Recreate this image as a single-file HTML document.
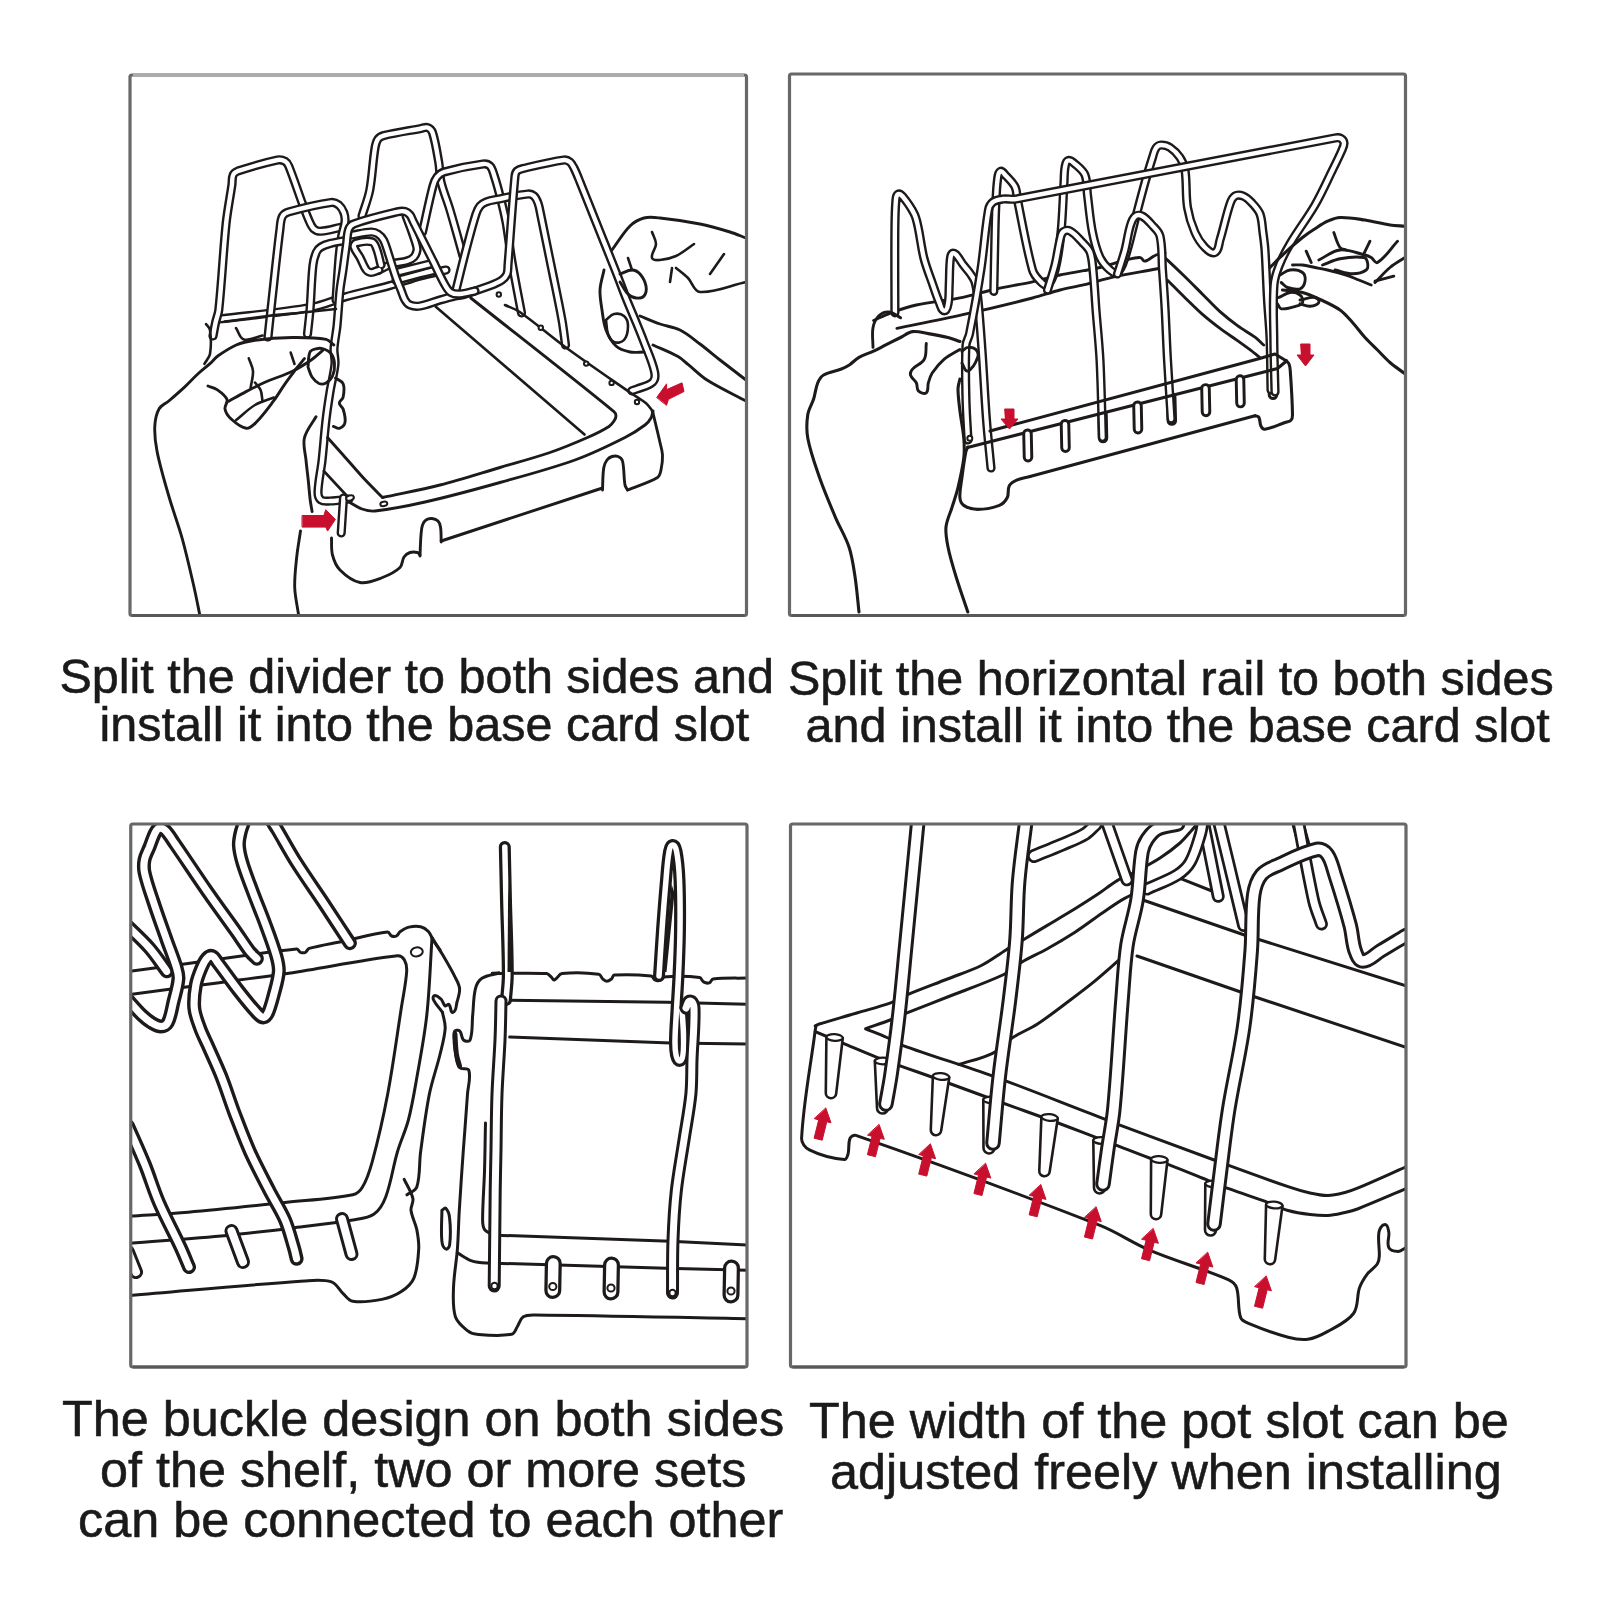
<!DOCTYPE html>
<html><head><meta charset="utf-8"><style>
html,body{margin:0;padding:0;background:#fff;width:1600px;height:1600px;overflow:hidden}
svg{display:block}
text{font-family:"Liberation Sans",sans-serif;fill:#1a1a1a;stroke:#1a1a1a;stroke-width:0.55px}
</style></head><body>
<svg width="1600" height="1600" viewBox="0 0 1600 1600" xmlns="http://www.w3.org/2000/svg">
<rect width="1600" height="1600" fill="#fff"/>
<defs><clipPath id="cp1"><rect x="130" y="75" width="616.5" height="540.5"/></clipPath><clipPath id="cp2"><rect x="789.5" y="74" width="616" height="541.5"/></clipPath><clipPath id="cp3"><rect x="130.75" y="824" width="616.25" height="543"/></clipPath><clipPath id="cp4"><rect x="790.5" y="824" width="615.5" height="543"/></clipPath></defs>
<g clip-path="url(#cp1)" fill="none" stroke-linecap="round" stroke-linejoin="round"><path d="M219 319 C249.7 315.2 280.6 312.8 311 307.5 C322.7 305.5 333.6 300.2 345 297 C359.9 292.8 375.1 289.7 390 285.5 C400.1 282.7 409.9 278.8 420 276 C428.6 273.6 437.3 272 446 270" stroke="#1e1a1a" stroke-width="9.2"/><path d="M219 319 C249.7 315.2 280.6 312.8 311 307.5 C322.7 305.5 333.6 300.2 345 297 C359.9 292.8 375.1 289.7 390 285.5 C400.1 282.7 409.9 278.8 420 276 C428.6 273.6 437.3 272 446 270" stroke="#fff" stroke-width="4.4"/><path d="M396 280.5 C404 278.3 412 276.1 420 274 C424.7 272.8 429.3 271.7 434 270.5" stroke="#1e1a1a" stroke-width="9.2"/><path d="M396 280.5 C404 278.3 412 276.1 420 274 C424.7 272.8 429.3 271.7 434 270.5" stroke="#fff" stroke-width="4.4"/><path d="M396 272.5 C404 270.5 412 268.5 420 266.5 C424.7 265.3 429.3 264.2 434 263" stroke="#1e1a1a" stroke-width="9.2"/><path d="M396 272.5 C404 270.5 412 268.5 420 266.5 C424.7 265.3 429.3 264.2 434 263" stroke="#fff" stroke-width="4.4"/><path d="M213 336 C213.9 331.5 214.6 327 215.6 322.5 C216.5 318.3 218.3 314.3 218.8 310 C221.9 280.9 223.2 251.6 226.2 222.5 C227.6 209.9 230.1 197.5 231.9 185 C232.4 181.7 231.8 178.1 233.1 175 C233.8 173.2 235.7 171.9 237.5 171.2 C250.6 166.8 263.9 162.9 277.5 160 C280 159.5 282.8 160 285 161.2 C286.8 162.3 288 164.3 288.8 166.2 C293.8 178.6 297.9 191.3 302.5 203.8 C304.5 209.2 306.4 214.7 308.8 220 C310.1 223.1 311.3 226.5 313.8 228.8 C315.7 230.5 318.6 231.4 321.2 231.2 C327.6 230.9 333.8 228.8 340 227.5 C344 226.7 348 225.8 352 225" stroke="#1e1a1a" stroke-width="9.2"/><path d="M213 336 C213.9 331.5 214.6 327 215.6 322.5 C216.5 318.3 218.3 314.3 218.8 310 C221.9 280.9 223.2 251.6 226.2 222.5 C227.6 209.9 230.1 197.5 231.9 185 C232.4 181.7 231.8 178.1 233.1 175 C233.8 173.2 235.7 171.9 237.5 171.2 C250.6 166.8 263.9 162.9 277.5 160 C280 159.5 282.8 160 285 161.2 C286.8 162.3 288 164.3 288.8 166.2 C293.8 178.6 297.9 191.3 302.5 203.8 C304.5 209.2 306.4 214.7 308.8 220 C310.1 223.1 311.3 226.5 313.8 228.8 C315.7 230.5 318.6 231.4 321.2 231.2 C327.6 230.9 333.8 228.8 340 227.5 C344 226.7 348 225.8 352 225" stroke="#fff" stroke-width="4.4"/><path d="M362 216 C364.6 207.3 368.1 198.9 369.8 190 C372.4 176.1 372.7 161.9 375 148 C375.5 144.9 376.2 141.6 378 139 C379.4 137.1 381.8 136 384 135.5 C396.2 132.5 408.7 130.8 421 128.5 C423.2 128.1 425.4 126.8 427.5 127.5 C429.7 128.3 431.8 130.3 432.5 132.5 C435.6 142.2 437 152.4 438.8 162.5 C439.9 168.9 439.5 175.6 441 182 C443.3 191.5 447.2 200.6 450 210 C452.8 219.3 455.4 228.7 458 238 C459.7 244 461.3 250 463 256" stroke="#1e1a1a" stroke-width="9.2"/><path d="M362 216 C364.6 207.3 368.1 198.9 369.8 190 C372.4 176.1 372.7 161.9 375 148 C375.5 144.9 376.2 141.6 378 139 C379.4 137.1 381.8 136 384 135.5 C396.2 132.5 408.7 130.8 421 128.5 C423.2 128.1 425.4 126.8 427.5 127.5 C429.7 128.3 431.8 130.3 432.5 132.5 C435.6 142.2 437 152.4 438.8 162.5 C439.9 168.9 439.5 175.6 441 182 C443.3 191.5 447.2 200.6 450 210 C452.8 219.3 455.4 228.7 458 238 C459.7 244 461.3 250 463 256" stroke="#fff" stroke-width="4.4"/><path d="M422.5 232 C426 216.7 429 201.2 433 186 C433.8 182.8 435 179.6 437 177 C438.8 174.7 441.2 172.8 444 172 C456.8 168.4 469.8 165.7 483 164 C485.4 163.7 488.3 164.3 490 166 C492.3 168.3 493 171.9 494 175 C496.3 181.9 498.2 188.9 500 196 C502.2 204.6 504.4 213.2 506 222 C508.4 235.3 509.7 248.7 512 262 C514.9 279 518.3 296 521.5 313" stroke="#1e1a1a" stroke-width="9.2"/><path d="M422.5 232 C426 216.7 429 201.2 433 186 C433.8 182.8 435 179.6 437 177 C438.8 174.7 441.2 172.8 444 172 C456.8 168.4 469.8 165.7 483 164 C485.4 163.7 488.3 164.3 490 166 C492.3 168.3 493 171.9 494 175 C496.3 181.9 498.2 188.9 500 196 C502.2 204.6 504.4 213.2 506 222 C508.4 235.3 509.7 248.7 512 262 C514.9 279 518.3 296 521.5 313" stroke="#fff" stroke-width="4.4"/><path d="M456 290 C459.3 276.7 462.5 263.3 466 250 C469.2 238 472.2 225.9 476 214 C476.9 211.2 478.1 208.3 480 206 C481.5 204.2 483.8 202.9 486 202 C489.2 200.7 492.6 200.1 496 199.5 C506.6 197.5 517.2 195 528 194 C530.1 193.8 532.4 194.6 534 196 C536 197.8 537.1 200.5 538 203 C539.5 207.2 540.1 211.6 541 216 C544.8 234 548.4 252 552 270 C555.4 286.7 559 303.3 562 320 C563.5 328.3 564.3 336.7 565.5 345" stroke="#1e1a1a" stroke-width="9.2"/><path d="M456 290 C459.3 276.7 462.5 263.3 466 250 C469.2 238 472.2 225.9 476 214 C476.9 211.2 478.1 208.3 480 206 C481.5 204.2 483.8 202.9 486 202 C489.2 200.7 492.6 200.1 496 199.5 C506.6 197.5 517.2 195 528 194 C530.1 193.8 532.4 194.6 534 196 C536 197.8 537.1 200.5 538 203 C539.5 207.2 540.1 211.6 541 216 C544.8 234 548.4 252 552 270 C555.4 286.7 559 303.3 562 320 C563.5 328.3 564.3 336.7 565.5 345" stroke="#fff" stroke-width="4.4"/><path d="M406 216 C408 221.3 410.1 226.6 412 232 C413.4 236 414.9 239.9 416 244 C416.5 246 417.3 248 417 250 C416.6 252.5 415.7 255.1 414 257 C412.2 259 409.6 260.2 407 261 C402.1 262.5 396.8 262.4 392 264 C387.1 265.6 382.7 268.3 378 270.5" stroke="#1e1a1a" stroke-width="9.2"/><path d="M406 216 C408 221.3 410.1 226.6 412 232 C413.4 236 414.9 239.9 416 244 C416.5 246 417.3 248 417 250 C416.6 252.5 415.7 255.1 414 257 C412.2 259 409.6 260.2 407 261 C402.1 262.5 396.8 262.4 392 264 C387.1 265.6 382.7 268.3 378 270.5" stroke="#fff" stroke-width="4.4"/><path d="M379 270 C376.3 270.8 373.8 272.6 371 272.5 C369.1 272.4 367.1 271.1 366 269.5 C363.4 265.9 362.1 261.4 360 257.5 C358.1 253.9 355.1 250.9 354 247 C353.6 245.6 354.6 243.4 356 243 C361.1 241.5 366.8 240.4 372 241.8 C374.6 242.5 375.5 246 376.5 248.5 C378.6 253.8 379.5 259.5 381 265" stroke="#1e1a1a" stroke-width="9.2"/><path d="M379 270 C376.3 270.8 373.8 272.6 371 272.5 C369.1 272.4 367.1 271.1 366 269.5 C363.4 265.9 362.1 261.4 360 257.5 C358.1 253.9 355.1 250.9 354 247 C353.6 245.6 354.6 243.4 356 243 C361.1 241.5 366.8 240.4 372 241.8 C374.6 242.5 375.5 246 376.5 248.5 C378.6 253.8 379.5 259.5 381 265" stroke="#fff" stroke-width="4.4"/><path d="M268 337 C269.3 324.7 270.6 312.3 272 300 C274.6 276.2 277 252.5 280 228.8 C280.5 224.5 280.5 220 282.5 216.2 C283.7 214 286.3 212.6 288.8 211.9 C302.7 208 316.9 204.5 331.2 202.5 C333.9 202.1 336.7 203.4 338.8 205 C341.1 206.9 342.7 209.7 343.8 212.5 C344.9 215.5 345.3 218.8 345 222 C344.6 226.9 342.4 231.6 341.6 236.5 C340.4 243.5 339.6 250.5 339 257.5 C337.8 271.6 337 285.8 336 300" stroke="#1e1a1a" stroke-width="9.2"/><path d="M268 337 C269.3 324.7 270.6 312.3 272 300 C274.6 276.2 277 252.5 280 228.8 C280.5 224.5 280.5 220 282.5 216.2 C283.7 214 286.3 212.6 288.8 211.9 C302.7 208 316.9 204.5 331.2 202.5 C333.9 202.1 336.7 203.4 338.8 205 C341.1 206.9 342.7 209.7 343.8 212.5 C344.9 215.5 345.3 218.8 345 222 C344.6 226.9 342.4 231.6 341.6 236.5 C340.4 243.5 339.6 250.5 339 257.5 C337.8 271.6 337 285.8 336 300" stroke="#fff" stroke-width="4.4"/><path d="M307.5 334 C308.3 326 309.4 318 310 310 C311.2 295 311.3 279.9 313 265 C313.5 260.5 314.7 256.1 316.5 252 C317.4 250 319.1 248.2 321 247 C323.7 245.3 326.9 244.3 330 243.5 C334.9 242.2 340 241.5 345 240.5" stroke="#1e1a1a" stroke-width="9.2"/><path d="M307.5 334 C308.3 326 309.4 318 310 310 C311.2 295 311.3 279.9 313 265 C313.5 260.5 314.7 256.1 316.5 252 C317.4 250 319.1 248.2 321 247 C323.7 245.3 326.9 244.3 330 243.5 C334.9 242.2 340 241.5 345 240.5" stroke="#fff" stroke-width="4.4"/><path d="M352 235 C358.3 234 364.6 232.2 371 232 C373.4 231.9 376 232.7 378 234 C380.3 235.5 382.3 237.6 383.5 240 C385.9 244.7 387.1 250 388.8 255 C391.2 262.5 393.4 270.1 396 277.5 C397.5 281.7 399.3 285.8 401 290 C402.3 293.3 403.2 296.9 405 300 C406.2 302 407.8 304.1 410 305 C413.1 306.2 416.7 306.6 420 306 C426.9 304.9 433.3 301.9 440 300 C445 298.6 450 297.2 455 296 C457.9 295.3 460.9 295.3 463.8 294.5 C472.6 291.9 481.4 289 490 285.8 C494.1 284.2 498.4 282.5 502 280 C504.1 278.5 506 276.4 507 274 C508.1 271.2 507.8 268 508 265 C510.4 235.3 512.2 205.6 515 176 C515.2 174.2 515.7 172.2 517 171 C518.6 169.5 520.9 169 523 168.5 C536.6 165.3 550.2 161.9 564 160 C566.1 159.7 568.4 160.7 570 162 C571.9 163.5 572.9 165.9 574 168 C576.3 172.5 578.1 177.3 580 182 C584.1 192 588 202 592 212 C596 222 600 232 604 242 C608 252 612.1 262 616 272 C619.4 280.6 622.6 289.4 626 298 C629.2 306 632.7 314 636 322 C638.7 328.6 641.5 335.3 644 342 C647.7 351.8 652.3 361.3 654.5 371.5 C655.3 375 655.3 379.5 652.8 382 C648.7 386.1 642.3 386.8 637 389 C635.3 389.7 633.5 390.2 631.8 390.8" stroke="#1e1a1a" stroke-width="9.2"/><path d="M352 235 C358.3 234 364.6 232.2 371 232 C373.4 231.9 376 232.7 378 234 C380.3 235.5 382.3 237.6 383.5 240 C385.9 244.7 387.1 250 388.8 255 C391.2 262.5 393.4 270.1 396 277.5 C397.5 281.7 399.3 285.8 401 290 C402.3 293.3 403.2 296.9 405 300 C406.2 302 407.8 304.1 410 305 C413.1 306.2 416.7 306.6 420 306 C426.9 304.9 433.3 301.9 440 300 C445 298.6 450 297.2 455 296 C457.9 295.3 460.9 295.3 463.8 294.5 C472.6 291.9 481.4 289 490 285.8 C494.1 284.2 498.4 282.5 502 280 C504.1 278.5 506 276.4 507 274 C508.1 271.2 507.8 268 508 265 C510.4 235.3 512.2 205.6 515 176 C515.2 174.2 515.7 172.2 517 171 C518.6 169.5 520.9 169 523 168.5 C536.6 165.3 550.2 161.9 564 160 C566.1 159.7 568.4 160.7 570 162 C571.9 163.5 572.9 165.9 574 168 C576.3 172.5 578.1 177.3 580 182 C584.1 192 588 202 592 212 C596 222 600 232 604 242 C608 252 612.1 262 616 272 C619.4 280.6 622.6 289.4 626 298 C629.2 306 632.7 314 636 322 C638.7 328.6 641.5 335.3 644 342 C647.7 351.8 652.3 361.3 654.5 371.5 C655.3 375 655.3 379.5 652.8 382 C648.7 386.1 642.3 386.8 637 389 C635.3 389.7 633.5 390.2 631.8 390.8" stroke="#fff" stroke-width="4.4"/><path d="M349 499 C342.7 499.7 336.4 500.8 330 501 C327 501.1 323.4 501.8 321 500 C318.7 498.3 317.9 494.8 318 492 C318.3 481.6 320.8 471.4 322 461 C323.5 447.4 324.4 433.6 326 420 C327.1 410.6 328.5 401.3 330 392 C331.5 382.6 334.1 373.4 335 364 C335.5 359 333.7 354 334 349 C334.4 341.3 336.2 333.7 337 326 C338.2 314 338.7 302 340 290 C340.7 283.3 342.1 276.7 343 270 C344.2 261.3 345.3 252.7 346.5 244 C347.2 239 347 233.7 348.8 229 C349.6 226.7 351.7 224.6 354 223.8 C368.2 218.7 382.9 215.3 397.5 211.8 C399.9 211.2 402.6 210.9 405 211.5 C407 212 408.7 213.4 410 215 C411.4 216.7 412 219 413 221 C416.2 227.3 419.3 233.7 422.5 240 C426.2 247.5 430 255 433.8 262.5 C437.5 270 440.8 277.7 445 285 C446.6 287.8 448.3 290.9 451 292.5 C453.6 294.1 457 294.2 460 294 C465.1 293.7 470 292 475 291" stroke="#1e1a1a" stroke-width="9.2"/><path d="M349 499 C342.7 499.7 336.4 500.8 330 501 C327 501.1 323.4 501.8 321 500 C318.7 498.3 317.9 494.8 318 492 C318.3 481.6 320.8 471.4 322 461 C323.5 447.4 324.4 433.6 326 420 C327.1 410.6 328.5 401.3 330 392 C331.5 382.6 334.1 373.4 335 364 C335.5 359 333.7 354 334 349 C334.4 341.3 336.2 333.7 337 326 C338.2 314 338.7 302 340 290 C340.7 283.3 342.1 276.7 343 270 C344.2 261.3 345.3 252.7 346.5 244 C347.2 239 347 233.7 348.8 229 C349.6 226.7 351.7 224.6 354 223.8 C368.2 218.7 382.9 215.3 397.5 211.8 C399.9 211.2 402.6 210.9 405 211.5 C407 212 408.7 213.4 410 215 C411.4 216.7 412 219 413 221 C416.2 227.3 419.3 233.7 422.5 240 C426.2 247.5 430 255 433.8 262.5 C437.5 270 440.8 277.7 445 285 C446.6 287.8 448.3 290.9 451 292.5 C453.6 294.1 457 294.2 460 294 C465.1 293.7 470 292 475 291" stroke="#fff" stroke-width="4.4"/><path d="M343.5 498 L341.2 533" stroke="#1e1a1a" stroke-width="9.2"/><path d="M343.5 498 L341.2 533" stroke="#fff" stroke-width="4.4"/><path d="M206 324 C207.3 326 209.7 327.6 210 330 C211.1 337.9 211.3 346.1 210 354 C209.4 357.7 206.3 360.5 204.4 363.8" stroke="#1e1a1a" stroke-width="2.6"/><path d="M225 321.6 C239.3 319.7 253.6 317.7 268 316 C281.1 314.5 294.3 313.4 307.5 312 C317 311 326.5 310 336 309" stroke="#1e1a1a" stroke-width="2.6"/><path d="M236 328 C238.6 331.8 239.3 338.1 243.8 339.4 C249.9 341.2 256.2 336.9 262.5 335.6" stroke="#1e1a1a" stroke-width="2.6"/><path d="M435.8 306.8 L584.5 434.5" stroke="#1e1a1a" stroke-width="2.6"/><path d="M470.8 298 C518.6 335.9 566.9 373.3 614.2 411.8 C615.4 412.7 616 414.5 616 416 C616 417.8 615 419.5 614 421 C612.6 423.1 611.1 425.2 609 426.5 C602.2 430.8 594.9 434.3 587.5 437.5 C575.2 442.9 562.7 448.1 550 452.5 C533.5 458.1 516.7 462.6 500 467.5 C480 473.4 460.2 479.8 440 485 C421 489.9 401.7 493.3 382.5 497.5" stroke="#1e1a1a" stroke-width="2.9"/><path d="M505 305 C509.9 307.3 515.3 308.9 519.8 312 C535.4 322.9 549.8 335.7 565.2 347 C586.6 362.6 608.3 377.4 630 392.5 C635.2 396.1 640.8 399.1 645.8 403 C647.8 404.6 649.4 406.8 651 409 C651.9 410.2 652.3 411.7 653 413" stroke="#1e1a1a" stroke-width="2.6"/><path d="M350 502.5 C354 504.7 357.7 507.5 362 509 C366.2 510.4 370.6 511.5 375 511 C391.8 509.1 408.5 505.8 425 502 C450.2 496.3 475.1 489.5 500 482.5 C525.1 475.5 550.4 468.8 575 460 C592.2 453.8 608.7 445.7 625 437.5 C632 434 638.7 429.7 645 425 C647.5 423.2 649.5 420.7 651 418 C652.2 415.9 652.3 413.3 653 411" stroke="#1e1a1a" stroke-width="2.9"/><path d="M653 413 C655.3 422.8 657.8 432.6 660 442.5 C660.9 446.6 662.3 450.8 662.5 455 C662.7 460 662.1 465.1 661 470 C660.4 472.7 659.9 476.1 657.5 477.5 C648.2 483.1 637.5 485.8 627.5 490" stroke="#1e1a1a" stroke-width="2.9"/><path d="M627.5 490 C626.7 488.3 625.3 486.8 625 485 C623.6 477.1 624.4 468.8 622.5 461 C622 458.9 619.9 457.3 618 456.5 C616.2 455.7 613.9 455.9 612 456.5 C610.1 457.1 608.2 458.4 607 460 C605.4 462.2 604.2 464.8 603.8 467.5 C602.6 474.9 602.9 482.5 602.5 490" stroke="#1e1a1a" stroke-width="2.9"/><path d="M602.5 488 L441.2 541" stroke="#1e1a1a" stroke-width="2.9"/><path d="M199.8 615 C197.9 605.7 196.1 596.3 194 587 C190.3 570.9 186.7 554.7 182.3 538.8 C178.3 524.4 172.9 510.4 168.8 496 C164.5 481.3 160.1 466.6 157.1 451.6 C155.4 443.3 154.4 434.8 154.8 426.4 C155.1 420.4 156.1 414.2 159 409 C161 405.3 165.6 403.7 168.8 401 C173.9 396.6 179 392.2 184 387.6 C188.7 383.2 193 378.4 197.8 374 C202.2 370 207 366.4 211.4 362.4 C213.5 360.5 215.1 357.9 217.5 356.2 C223.5 352.1 229.5 347.9 236.2 345 C242.2 342.5 248.6 341.2 255 340.3 C267.4 338.6 280 337.7 292.5 337.5 C303.8 337.4 315.2 337.4 326.2 339.4 C329.3 340 331.2 343.1 333.8 345" stroke="#1e1a1a" stroke-width="2.9"/><path d="M208 386 C211 387.2 214.4 387.7 217 389.6 C220.8 392.3 225.1 395 226.9 399.3 C228.2 402.3 224.3 405.8 225 409 C225.7 412.7 228 416.1 230.8 418.6 C235.3 422.7 240.3 427.4 246.3 428.3 C250 428.9 253.3 425.2 256 422.5 C262.5 416 267.9 408.5 273.4 401.2 C277.6 395.6 281 389.5 285 383.8 C288.7 378.5 292.7 373.4 296.6 368.2 C299.1 365 301.8 361.8 304.4 358.6" stroke="#1e1a1a" stroke-width="2.9"/><path d="M228.8 401.2 C234.4 398.1 239.9 394.9 245.6 391.9 C251.8 388.6 258 385.3 264.4 382.5 C273.6 378.4 283.4 375.6 292.5 371.2 C299.1 368.1 305.2 364.1 311.2 360 C315.3 357.2 318.8 353.7 322.5 350.6" stroke="#1e1a1a" stroke-width="2.9"/><path d="M236.2 420 C242.5 415 248.1 409.1 255 405 C260.8 401.5 267.5 400 273.8 397.5" stroke="#1e1a1a" stroke-width="2.6"/><path d="M248.8 358.3 C250.2 362.5 252.7 366.5 253 371 C253.3 376.7 251.4 382.3 250.6 388" stroke="#1e1a1a" stroke-width="2.6"/><path d="M290.7 352.6 L294.5 364" stroke="#1e1a1a" stroke-width="2.6"/><path d="M255 382.5 C256.9 385 259.4 387.1 260.6 390 C262 393.5 261.9 397.5 262.5 401.2" stroke="#1e1a1a" stroke-width="2.6"/><path d="M308 367 C308.7 362 308 356.6 310 352 C310.9 349.9 313.8 349.3 316 348.8 C318.3 348.2 320.8 348.1 323 348.8 C326 349.7 329.1 351 331 353.5 C333.2 356.4 334.3 360.3 334.5 364 C334.8 368 334.2 372.3 332.5 376 C331.2 378.9 328.8 381.5 326 383 C324 384.1 321.2 384.4 319 383.5 C316.1 382.2 313.8 379.6 312 377 C310 374 309.3 370.3 308 367" stroke="#1e1a1a" stroke-width="2.9"/><path d="M335.4 378 C338 379.9 341.9 380.8 343.1 383.8 C344.8 387.9 344 392.9 343.1 397.3 C342.7 399.6 339.3 400.8 339.3 403.1 C339.3 405.4 342.4 406.8 343.1 409 C344.4 413.4 345.9 418 345 422.5 C344.5 425.2 341.9 427.4 339.3 428.3 C337.3 429 335.4 427 333.4 426.4" stroke="#1e1a1a" stroke-width="2.9"/><path d="M316 416.7 C312.1 423.8 306.2 430.1 304.4 438 C302.7 445.2 305.3 452.7 306 460 C306.6 466.9 307.6 473.7 308.3 480.6 C309 487.1 309.4 493.6 310.2 500 C310.7 503.9 311.5 507.7 312.1 511.6" stroke="#1e1a1a" stroke-width="2.9"/><path d="M300.5 531 C299.2 540 297.5 549 296.6 558 C295.6 567.7 294.4 577.5 294.7 587.2 C295 596.6 297.3 605.7 298.6 615" stroke="#1e1a1a" stroke-width="2.9"/><path d="M327.5 437.5 C332.7 443.3 337.9 449.2 343.1 455 C349.6 462.3 355.9 469.8 362.5 477 C369 484 375.8 490.7 382.5 497.5" stroke="#1e1a1a" stroke-width="2.9"/><path d="M323.8 471 L347 496" stroke="#1e1a1a" stroke-width="2.6"/><path d="M331.5 538 C331.8 543.7 331 549.5 332.5 555 C333.9 560.4 336 566 340 570 C345.6 575.6 352.3 581.1 360 582.5 C367.6 583.8 375.3 580.2 382.5 577.5 C388.8 575.1 395.1 572.1 400 567.5 C402.7 564.9 401.9 560.1 404 557 C405.4 554.9 407.6 553.3 410 552.5 C412.4 551.7 415.1 551.9 417.5 552.5 C418.6 552.8 419.2 554.2 420 555" stroke="#1e1a1a" stroke-width="2.9"/><path d="M420 556 C420.3 549 420.4 542 421 535 C421.3 531.6 421.4 528.2 422.5 525 C423.1 523.1 424.3 521.1 426 520 C427.7 518.8 429.9 518.3 432 518.5 C434.2 518.7 436.5 519.5 438 521 C439.5 522.5 440.2 524.9 440.5 527 C441.3 531.9 441 537 441.2 542" stroke="#1e1a1a" stroke-width="2.9"/><path d="M612 250 C618 242 622.9 233.1 630 226 C633.8 222.2 638.8 219.4 644 218 C649.2 216.6 654.7 217.4 660 218 C673.4 219.4 686.8 221.4 700 224 C710.1 226 720.1 229 730 232 C735.4 233.7 740.7 236 746 238" stroke="#1e1a1a" stroke-width="2.9"/><path d="M620 274 C624 272.7 627.8 270 632 270 C635 270 638 271.8 640 274 C642.9 277.4 645.2 281.6 646 286 C646.6 289.3 646.2 293.4 644 296 C642.2 298.1 638.7 298.3 636 298 C633 297.6 630.1 296.1 628 294 C624.6 290.6 622.7 286 620 282" stroke="#1e1a1a" stroke-width="2.9"/><path d="M652 232 C653.3 236 656 239.8 656 244 C656 248.9 650.8 253.3 652 258 C652.7 260.7 657.3 260.2 660 260 C665.5 259.5 671 258.3 676 256 C682.5 252.9 688 248 694 244" stroke="#1e1a1a" stroke-width="2.6"/><path d="M628 258 L632 270" stroke="#1e1a1a" stroke-width="2.6"/><path d="M672 268 L670 282" stroke="#1e1a1a" stroke-width="2.6"/><path d="M724 254 L710 274" stroke="#1e1a1a" stroke-width="2.6"/><path d="M676 268 C680 271.3 684.3 274.3 688 278 C692.3 282.3 693.9 291.6 700 292 C715.7 293.1 730.7 285.3 746 282" stroke="#1e1a1a" stroke-width="2.6"/><path d="M604 270 C602.7 276.7 600.3 283.2 600 290 C599.7 296.7 601 303.4 602 310 C603 316.7 603.5 323.7 606 330 C608.3 335.9 611.4 341.8 616 346 C619.7 349.4 625 350.9 630 352 C634.6 353 639.3 352 644 352" stroke="#1e1a1a" stroke-width="2.9"/><path d="M640 316 C646.7 318.7 653.2 321.6 660 324 C666.6 326.3 673.8 326.9 680 330 C687.3 333.6 693.5 339.1 700 344 C706.8 349.1 713.3 354.7 720 360 C728.6 366.7 737.3 373.3 746 380" stroke="#1e1a1a" stroke-width="2.9"/><path d="M653 345 C661.3 348.9 670 352.1 678 356.6 C681.7 358.6 684.7 361.7 688 364.4 C694.4 369.5 700.1 375.6 707 380 C719.5 387.9 733 394 746 401" stroke="#1e1a1a" stroke-width="2.9"/><path d="M606 320 C608.7 318 610.7 314.7 614 314 C617.3 313.3 621.4 313.8 624 316 C626.7 318.3 628 322.4 628 326 C628 330.9 627.2 336.3 624 340 C621.8 342.6 617.2 343.2 614 342 C610.9 340.8 609.1 337.1 608 334 C606.4 329.6 606.7 324.7 606 320" stroke="#1e1a1a" stroke-width="2.6"/><ellipse cx="350" cy="498" rx="4" ry="2.5" transform="rotate(-20 350 498)" stroke="#1e1a1a" stroke-width="2" fill="#fff"/><ellipse cx="383.8" cy="503.9" rx="3.5" ry="2.2" transform="rotate(-10 383.8 503.9)" stroke="#1e1a1a" stroke-width="2" fill="#fff"/><ellipse cx="498.8" cy="294.5" rx="2.2" ry="2.2" transform="rotate(0 498.8 294.5)" stroke="#1e1a1a" stroke-width="2" fill="#fff"/><ellipse cx="540.8" cy="327.8" rx="2.2" ry="2.2" transform="rotate(0 540.8 327.8)" stroke="#1e1a1a" stroke-width="2" fill="#fff"/><ellipse cx="586.2" cy="363.6" rx="2.2" ry="2.2" transform="rotate(0 586.2 363.6)" stroke="#1e1a1a" stroke-width="2" fill="#fff"/><ellipse cx="611.6" cy="382.9" rx="2.2" ry="2.2" transform="rotate(0 611.6 382.9)" stroke="#1e1a1a" stroke-width="2" fill="#fff"/><ellipse cx="637" cy="402" rx="2.2" ry="2.2" transform="rotate(0 637 402)" stroke="#1e1a1a" stroke-width="2" fill="#fff"/><path d="M302.4 515.5 L323.8 515.5 L325.7 509.7 L335.4 519.4 L327.6 531 L325.7 527.1 L302.4 527.1 Z" fill="#c8102e" stroke="#c8102e" stroke-width="1"/><path d="M656.9 397.3 L666.6 383.8 L666.6 389.6 L682 382.8 L684 391.5 L668.5 399.3 L666.6 405 Z" fill="#c8102e" stroke="#c8102e" stroke-width="1"/></g>
<g clip-path="url(#cp2)" fill="none" stroke-linecap="round" stroke-linejoin="round"><path d="M873.6 320.5 C879.4 317.9 885 315 891 312.8 C899.3 309.8 907.7 306.9 916.3 305 C931.7 301.7 947.4 300.4 962.8 297.3 C973.2 295.2 983.4 291.8 993.8 289.5 C1006.6 286.6 1019.7 284.6 1032.5 281.8 C1041.7 279.8 1050.8 277 1060 275 C1067.8 273.3 1075.7 272.2 1083.6 270.7 C1089.1 269.7 1094.6 268.9 1100 267.5 C1109.4 265.1 1118.6 261.7 1128 259.4 C1132.1 258.4 1136.3 257.2 1140.5 257.6 C1142.1 257.8 1142.5 260.4 1144 261 C1145.1 261.4 1146.4 260.7 1147.5 260.2 C1150.5 258.7 1152.9 256.3 1156 255 C1158.8 253.8 1162 253.7 1165 253" stroke="#1e1a1a" stroke-width="2.9"/><path d="M896.9 328.3 C918.9 323.8 940.9 319.6 962.8 314.7 C986.1 309.5 1009.3 303.9 1032.5 298 C1041.8 295.6 1050.8 292.4 1060 290 C1068.1 287.9 1076.4 286.7 1084.5 284.7 C1094.4 282.3 1104.1 279.1 1114 276.9 C1127.9 273.8 1142 271.7 1156 269 C1159 268.4 1162 267.7 1165 267" stroke="#1e1a1a" stroke-width="2.9"/><path d="M1163 256 C1164.5 257.4 1166 258.7 1167.5 260.1 C1173.4 265.6 1179.2 271.1 1185 276.7 C1190.9 282.5 1196.7 288.4 1202.5 294.2 C1208.3 300 1213.9 306.2 1220 311.7 C1225.6 316.7 1231.5 321.3 1237.5 325.7 C1243.1 329.8 1249.4 333 1255 337.1 C1258.2 339.4 1260.8 342.4 1263.7 345" stroke="#1e1a1a" stroke-width="2.9"/><path d="M1167.5 280.2 C1173.3 286 1179.1 291.9 1185 297.7 C1190.8 303.3 1196.4 309.1 1202.5 314.4 C1208.1 319.3 1214 323.9 1220 328.4 C1225.7 332.7 1231.7 336.5 1237.5 340.6 C1241.9 343.7 1246.3 346.9 1250.6 350.2 C1253.6 352.5 1256.5 354.9 1259.4 357.2" stroke="#1e1a1a" stroke-width="2.9"/><path d="M1272.5 371.3 L1273 394.8" stroke="#1e1a1a" stroke-width="10.5"/><path d="M1272.5 371.3 L1273 394.8" stroke="#fff" stroke-width="4.6"/><path d="M1171.2 397.1 L1171.8 420.6" stroke="#1e1a1a" stroke-width="10.5"/><path d="M1171.2 397.1 L1171.8 420.6" stroke="#fff" stroke-width="4.6"/><path d="M1102.5 414.6 L1103 438.1" stroke="#1e1a1a" stroke-width="10.5"/><path d="M1102.5 414.6 L1103 438.1" stroke="#fff" stroke-width="4.6"/><path d="M993.8 291.4 C994.1 276.6 994.4 261.7 994.7 246.9 C995 234 995.1 221 995.7 208.1 C996.1 198.4 996.3 188.6 997.6 179 C998 176.3 998 172.5 1000.5 171.3 C1002.4 170.4 1004 173.7 1005.4 175.2 C1008.8 178.9 1012.8 182.3 1015 186.8 C1017 190.8 1016.6 195.6 1017.5 200 C1022.4 223.4 1026.1 247 1032.5 270 C1033.7 274.3 1036.9 277.9 1040 281 C1042 283 1045.2 286.7 1047.5 285 C1052 281.7 1053.6 275.4 1055 270 C1058.2 257.7 1059.7 245.1 1061 232.5 C1062.7 215.9 1063 199.2 1064 182.5 C1064.3 177.5 1064.1 172.4 1065 167.5 C1065.5 165 1065.6 161.3 1068 160.5 C1070.5 159.6 1073 162.3 1075 164 C1078.8 167.2 1083.1 170.4 1085 175 C1087.5 181.2 1086.6 188.3 1087.5 195 C1089.1 207.5 1090 220.1 1092.5 232.5 C1094.2 241 1096.3 249.6 1100 257.5 C1102.3 262.3 1105.9 266.5 1110 270 C1112 271.7 1115.5 274.2 1117.5 272.5 C1121.8 268.9 1123.2 262.8 1125 257.5 C1129.1 245.2 1131.7 232.5 1135 220 C1138.3 207.5 1141.5 195 1145 182.5 C1147.3 174.1 1149.9 165.8 1152.5 157.5 C1153.5 154.3 1154.1 150.8 1156 148 C1157.1 146.4 1159.1 145.1 1161 145 C1164.1 144.9 1167.4 145.8 1170 147.5 C1173.9 150.1 1177.4 153.6 1180 157.5 C1182.5 161.2 1184.3 165.6 1185 170 C1186.9 182.4 1185.5 195.1 1187.5 207.5 C1188.9 216.1 1191.5 224.5 1195 232.5 C1197.4 238 1200.8 243.3 1205 247.5 C1207.6 250.1 1211.7 254.2 1215 252.5 C1219 250.5 1218.7 244.3 1220 240 C1223.7 228.1 1226 215.8 1230 204 C1231 201 1232.3 197.6 1235 196 C1237.3 194.6 1240.5 195 1243 196 C1246.5 197.4 1249.4 200.2 1252 203 C1255.1 206.3 1258.4 209.8 1260 214 C1262.2 219.9 1262.1 226.3 1263 232.5 C1263.8 238.3 1264.6 244.1 1265 250 C1266.1 266.7 1266.5 283.3 1267.5 300 C1268.2 312.5 1269.5 325 1270 337.5 C1270.7 355 1270.7 372.5 1271 390" stroke="#1e1a1a" stroke-width="9.2"/><path d="M993.8 291.4 C994.1 276.6 994.4 261.7 994.7 246.9 C995 234 995.1 221 995.7 208.1 C996.1 198.4 996.3 188.6 997.6 179 C998 176.3 998 172.5 1000.5 171.3 C1002.4 170.4 1004 173.7 1005.4 175.2 C1008.8 178.9 1012.8 182.3 1015 186.8 C1017 190.8 1016.6 195.6 1017.5 200 C1022.4 223.4 1026.1 247 1032.5 270 C1033.7 274.3 1036.9 277.9 1040 281 C1042 283 1045.2 286.7 1047.5 285 C1052 281.7 1053.6 275.4 1055 270 C1058.2 257.7 1059.7 245.1 1061 232.5 C1062.7 215.9 1063 199.2 1064 182.5 C1064.3 177.5 1064.1 172.4 1065 167.5 C1065.5 165 1065.6 161.3 1068 160.5 C1070.5 159.6 1073 162.3 1075 164 C1078.8 167.2 1083.1 170.4 1085 175 C1087.5 181.2 1086.6 188.3 1087.5 195 C1089.1 207.5 1090 220.1 1092.5 232.5 C1094.2 241 1096.3 249.6 1100 257.5 C1102.3 262.3 1105.9 266.5 1110 270 C1112 271.7 1115.5 274.2 1117.5 272.5 C1121.8 268.9 1123.2 262.8 1125 257.5 C1129.1 245.2 1131.7 232.5 1135 220 C1138.3 207.5 1141.5 195 1145 182.5 C1147.3 174.1 1149.9 165.8 1152.5 157.5 C1153.5 154.3 1154.1 150.8 1156 148 C1157.1 146.4 1159.1 145.1 1161 145 C1164.1 144.9 1167.4 145.8 1170 147.5 C1173.9 150.1 1177.4 153.6 1180 157.5 C1182.5 161.2 1184.3 165.6 1185 170 C1186.9 182.4 1185.5 195.1 1187.5 207.5 C1188.9 216.1 1191.5 224.5 1195 232.5 C1197.4 238 1200.8 243.3 1205 247.5 C1207.6 250.1 1211.7 254.2 1215 252.5 C1219 250.5 1218.7 244.3 1220 240 C1223.7 228.1 1226 215.8 1230 204 C1231 201 1232.3 197.6 1235 196 C1237.3 194.6 1240.5 195 1243 196 C1246.5 197.4 1249.4 200.2 1252 203 C1255.1 206.3 1258.4 209.8 1260 214 C1262.2 219.9 1262.1 226.3 1263 232.5 C1263.8 238.3 1264.6 244.1 1265 250 C1266.1 266.7 1266.5 283.3 1267.5 300 C1268.2 312.5 1269.5 325 1270 337.5 C1270.7 355 1270.7 372.5 1271 390" stroke="#fff" stroke-width="4.4"/><path d="M894.9 312.8 C894.9 284.4 894.6 255.9 894.9 227.5 C895 218.5 895.1 209.4 895.9 200.4 C896.1 198.2 896.1 195.3 898 194.2 C899.5 193.3 901.6 195.2 902.7 196.5 C907.1 201.9 911.2 207.7 914.3 214 C916.4 218.2 917.2 222.9 918.2 227.5 C920.4 237.8 921.4 248.3 924 258.5 C926 266.4 929.1 274.1 931.8 281.8 C934.3 288.9 936.5 296.1 939.5 303 C940.7 305.8 941.3 310.8 944.4 310.8 C947.3 310.8 947.7 305.8 948.2 303 C949.3 297.3 948.9 291.4 949.2 285.6 C949.6 277.2 949.4 268.8 950.2 260.4 C950.4 258 950.4 255.2 952.1 253.5 C953.1 252.5 955 253.6 956 254.6 C958.8 257.4 960.4 261.1 962.8 264.3 C965.3 267.6 968.2 270.6 970.5 274 C972.2 276.5 974.2 279.1 975 282 C976.7 287.8 977.4 293.9 978 300 C979.7 316.6 980.8 333.3 982 350 C983.7 373.3 984.7 396.7 986.5 420 C987.7 436 989.5 452 991 468" stroke="#1e1a1a" stroke-width="9.2"/><path d="M894.9 312.8 C894.9 284.4 894.6 255.9 894.9 227.5 C895 218.5 895.1 209.4 895.9 200.4 C896.1 198.2 896.1 195.3 898 194.2 C899.5 193.3 901.6 195.2 902.7 196.5 C907.1 201.9 911.2 207.7 914.3 214 C916.4 218.2 917.2 222.9 918.2 227.5 C920.4 237.8 921.4 248.3 924 258.5 C926 266.4 929.1 274.1 931.8 281.8 C934.3 288.9 936.5 296.1 939.5 303 C940.7 305.8 941.3 310.8 944.4 310.8 C947.3 310.8 947.7 305.8 948.2 303 C949.3 297.3 948.9 291.4 949.2 285.6 C949.6 277.2 949.4 268.8 950.2 260.4 C950.4 258 950.4 255.2 952.1 253.5 C953.1 252.5 955 253.6 956 254.6 C958.8 257.4 960.4 261.1 962.8 264.3 C965.3 267.6 968.2 270.6 970.5 274 C972.2 276.5 974.2 279.1 975 282 C976.7 287.8 977.4 293.9 978 300 C979.7 316.6 980.8 333.3 982 350 C983.7 373.3 984.7 396.7 986.5 420 C987.7 436 989.5 452 991 468" stroke="#fff" stroke-width="4.4"/><path d="M1047.5 290 C1050 281.7 1052.9 273.4 1055 265 C1057.1 256.8 1058 248.3 1060 240 C1060.7 237.2 1060.9 233.9 1063 232 C1064.8 230.4 1067.9 229.9 1070 231 C1075 233.7 1078.6 238.4 1082.5 242.5 C1085.3 245.4 1088.6 248.2 1090 252 C1092.2 257.7 1092.4 263.9 1093 270 C1094.4 283.3 1095 296.7 1096 310 C1097.3 326.7 1099.1 343.3 1100 360 C1101.3 385.8 1101.7 411.7 1102.5 437.5" stroke="#1e1a1a" stroke-width="9.2"/><path d="M1047.5 290 C1050 281.7 1052.9 273.4 1055 265 C1057.1 256.8 1058 248.3 1060 240 C1060.7 237.2 1060.9 233.9 1063 232 C1064.8 230.4 1067.9 229.9 1070 231 C1075 233.7 1078.6 238.4 1082.5 242.5 C1085.3 245.4 1088.6 248.2 1090 252 C1092.2 257.7 1092.4 263.9 1093 270 C1094.4 283.3 1095 296.7 1096 310 C1097.3 326.7 1099.1 343.3 1100 360 C1101.3 385.8 1101.7 411.7 1102.5 437.5" stroke="#fff" stroke-width="4.4"/><path d="M1117.5 274 C1120 266 1122.8 258.1 1125 250 C1127 242.4 1127.8 234.5 1130 227 C1131.1 223.3 1132.1 219.1 1135 216.5 C1136.7 214.9 1139.9 215 1142 216 C1146 218 1149 221.7 1152 225 C1155 228.4 1159 231.6 1160 236 C1162.6 247.1 1161.7 258.7 1162.5 270 C1163.4 282.5 1164.3 295 1165 307.5 C1166 325 1166.5 342.5 1167.5 360 C1168.6 379.7 1170 399.3 1171.2 419" stroke="#1e1a1a" stroke-width="9.2"/><path d="M1117.5 274 C1120 266 1122.8 258.1 1125 250 C1127 242.4 1127.8 234.5 1130 227 C1131.1 223.3 1132.1 219.1 1135 216.5 C1136.7 214.9 1139.9 215 1142 216 C1146 218 1149 221.7 1152 225 C1155 228.4 1159 231.6 1160 236 C1162.6 247.1 1161.7 258.7 1162.5 270 C1163.4 282.5 1164.3 295 1165 307.5 C1166 325 1166.5 342.5 1167.5 360 C1168.6 379.7 1170 399.3 1171.2 419" stroke="#fff" stroke-width="4.4"/><path d="M968 440 C967.3 426.7 966.3 413.3 966 400 C965.6 381.7 965 363.3 966 345 C966.2 341.2 968.8 337.8 969.5 334 C973.8 312.4 977.7 290.7 981 269 C984 249.4 985 229.5 988.5 210 C989 207 990.6 203.8 993 202 C995.8 199.9 999.5 199.5 1003 199 C1007.3 198.4 1011.7 199.8 1016 199 C1122.5 179.4 1228.6 157.8 1335 138 C1337 137.6 1339.2 137.5 1341 138.5 C1342.6 139.4 1343.8 141.2 1344 143 C1344.2 145.4 1343 147.8 1342 150 C1339.1 156.8 1335.8 163.4 1332.5 170 C1326.8 181.7 1321.5 193.7 1315 205 C1307.3 218.3 1297.8 230.5 1290 243.8 C1285.8 250.9 1282 258.3 1279 266 C1276.6 272.1 1274.5 278.5 1274 285 C1272.7 302.5 1273.6 320 1273.8 337.5 C1273.9 355.7 1274.6 373.8 1275 392" stroke="#1e1a1a" stroke-width="9.2"/><path d="M968 440 C967.3 426.7 966.3 413.3 966 400 C965.6 381.7 965 363.3 966 345 C966.2 341.2 968.8 337.8 969.5 334 C973.8 312.4 977.7 290.7 981 269 C984 249.4 985 229.5 988.5 210 C989 207 990.6 203.8 993 202 C995.8 199.9 999.5 199.5 1003 199 C1007.3 198.4 1011.7 199.8 1016 199 C1122.5 179.4 1228.6 157.8 1335 138 C1337 137.6 1339.2 137.5 1341 138.5 C1342.6 139.4 1343.8 141.2 1344 143 C1344.2 145.4 1343 147.8 1342 150 C1339.1 156.8 1335.8 163.4 1332.5 170 C1326.8 181.7 1321.5 193.7 1315 205 C1307.3 218.3 1297.8 230.5 1290 243.8 C1285.8 250.9 1282 258.3 1279 266 C1276.6 272.1 1274.5 278.5 1274 285 C1272.7 302.5 1273.6 320 1273.8 337.5 C1273.9 355.7 1274.6 373.8 1275 392" stroke="#fff" stroke-width="4.4"/><path d="M990 431 L1258.8 358.8 L1275 354 L1286.5 361" stroke="#1e1a1a" stroke-width="3.1"/><path d="M967.5 447.5 L1266 371.5 L1277.5 368.5 L1286.5 361" stroke="#1e1a1a" stroke-width="3.1"/><path d="M1286.5 361 C1287.3 362 1288.5 362.8 1289 364 C1289.8 365.9 1290.1 368 1290.2 370 C1291.3 385 1292.3 400 1292.5 415 C1292.5 416.8 1292.3 419 1291 420.2 C1289.5 421.8 1287 421.8 1285 422.5 C1278.3 424.8 1271.8 428.2 1264.8 429.2 C1263.2 429.5 1261.7 427.7 1261 426.2 C1259.6 423.5 1260.3 419.9 1258.8 417.2 C1258.1 416.1 1256.2 416.2 1255 415.8" stroke="#1e1a1a" stroke-width="3.1"/><path d="M1255 415.8 L1030 476.5" stroke="#1e1a1a" stroke-width="3.1"/><path d="M967.8 447 C967.1 448.7 966.1 450.2 965.8 452 C964.2 460.5 963 469.2 961.9 477.8 C961.1 484.3 959.4 490.9 959.9 497.5 C960.1 500.4 961.4 503.8 963.8 505.4 C967.8 508.1 972.9 509.4 977.7 509.4 C985.1 509.4 992.6 508.1 999.4 505.4 C1002.9 504 1005.6 500.8 1007.3 497.5 C1009.1 493.9 1007.4 489.2 1009.3 485.7 C1010.9 482.8 1014.2 481.1 1017.2 479.8 C1021.2 478 1025.7 477.6 1030 476.5" stroke="#1e1a1a" stroke-width="3.1"/><path d="M859 612 C857.7 600.2 856.8 588.3 855 576.5 C853.5 566.6 852.2 556.5 849 547 C845.6 536.7 839.7 527.3 835.4 517.3 C829.9 504.2 824.3 491.2 819.6 477.8 C815.1 464.8 810.3 451.8 807.8 438.3 C806.4 430.5 806.6 422.4 807.8 414.6 C808.6 409 812 404.2 813.7 398.8 C815.3 393.6 815.6 388 817.7 383 C819 379.9 820.7 376.7 823.6 375 C829 371.8 835.6 371.3 841.4 369 C844.2 367.9 846.8 366.6 849.3 365 C852.7 362.7 855.4 359.4 859 357.3 C863.4 354.8 868.4 353.5 873 351.4 C877 349.6 880.9 347.4 884.8 345.4 C890.1 342.8 895.3 340.1 900.6 337.5 C904.6 335.5 908.1 332.2 912.5 331.6 C917.8 330.9 923.1 332.7 928.3 333.6 C934.9 334.7 941.5 335.9 948 337.5 C952.1 338.5 956 340.2 960 341.5" stroke="#1e1a1a" stroke-width="3.1"/><path d="M967.8 612 C963.9 600.2 959.6 588.4 956 576.5 C953 566.8 950 557 948 547 C946.7 540.4 945.3 533.7 946 527 C946.7 520.2 950 513.9 952 507.4 C954 500.8 956.4 494.4 958 487.7 C960.3 477.9 962.6 468 963.8 458 C964.6 451.5 964.3 444.8 963.8 438.3 C963 429 961 419.9 959.9 410.6 C959.1 403.4 958 396.2 958 388.9 C958 385.5 959.3 382.3 959.9 379" stroke="#1e1a1a" stroke-width="3.1"/><path d="M926.3 343.5 C925.6 348.8 926.8 354.6 924.3 359.3 C921.9 363.8 915.9 365.3 912.5 369.1 C911.1 370.7 909.9 373 910.5 375 C911.4 378.2 914.9 380 916.4 383 C917.6 385.4 916.5 389 918.4 390.9 C920.3 392.8 924.2 394.5 926.3 392.8 C928.9 390.7 927.3 386.2 928.3 383 C929.3 379.6 930.2 376 932.2 373 C935.5 368 939.4 363.2 944 359.3 C948.8 355.3 954.6 352.7 959.9 349.4" stroke="#1e1a1a" stroke-width="2.9"/><path d="M961.9 351.4 C963.9 350.1 965.4 347.7 967.8 347.4 C970.5 347 973.8 347.5 975.7 349.4 C977.6 351.3 978.6 354.7 977.7 357.3 C975.8 362.6 973.1 369 967.8 371 C964.7 372.1 963.9 365.8 961.9 363.2" stroke="#1e1a1a" stroke-width="2.9"/><path d="M873 347.4 C873 340.8 871.8 334.2 873 327.7 C873.8 323.3 875.8 318.9 878.9 315.8 C881.4 313.3 885.3 311.6 888.8 311.9 C893.2 312.3 896.7 315.8 900.6 317.8" stroke="#1e1a1a" stroke-width="2.9"/><path d="M1270 267.5 C1274.6 262.9 1279 258.1 1283.8 253.8 C1289.8 248.1 1296 242.7 1302.5 237.5 C1306.5 234.3 1310.7 231.5 1315 228.8 C1319.1 226.1 1323.1 223.2 1327.5 221.2 C1331.5 219.5 1335.7 217.6 1340 217.5 C1348.4 217.2 1356.7 218.8 1365 220 C1373.4 221.3 1381.6 223.7 1390 225 C1395 225.8 1400 225.8 1405 226.2" stroke="#1e1a1a" stroke-width="3.1"/><path d="M1333.8 232.5 C1335.8 237.5 1336.9 243.1 1340 247.5 C1341.3 249.3 1344.2 249.2 1346.2 250" stroke="#1e1a1a" stroke-width="2.9"/><path d="M1306.2 251.2 L1311.2 262.5" stroke="#1e1a1a" stroke-width="2.9"/><path d="M1370 241.2 L1363.8 253.8" stroke="#1e1a1a" stroke-width="2.9"/><path d="M1397.5 241.2 C1390.8 248.3 1385.8 257.4 1377.5 262.5 C1375.2 263.9 1373.5 258.9 1371.2 257.5 C1369.3 256.3 1367.2 255.5 1365 255 C1356.7 253 1348.4 249.1 1340 250 C1332.2 250.8 1325.8 256.7 1318.8 260" stroke="#1e1a1a" stroke-width="2.9"/><path d="M1322.5 265 C1328.3 262.9 1333.9 259.9 1340 258.8 C1347.8 257.3 1355.9 256.4 1363.8 257.5 C1365.8 257.8 1367.1 260.5 1367.5 262.5 C1368 265 1368.3 268.5 1366.2 270 C1362.4 272.9 1357.3 273.8 1352.5 273.8 C1346.5 273.8 1340.8 271.2 1335 270" stroke="#1e1a1a" stroke-width="2.9"/><path d="M1292.5 265 C1295.8 265 1299.2 264.6 1302.5 265 C1306.7 265.5 1310.8 266.7 1315 267.5 C1319.2 268.3 1323.4 269 1327.5 270 C1333.8 271.5 1340.1 273 1346.2 275 C1350.5 276.4 1354.6 278.3 1358.8 280 C1362.9 281.7 1367.1 283.3 1371.2 285" stroke="#1e1a1a" stroke-width="2.9"/><path d="M1375 281.2 L1393.8 276.2" stroke="#1e1a1a" stroke-width="2.9"/><path d="M1375 282.5 C1380 277.5 1384.6 272 1390 267.5 C1394.6 263.7 1400 260.8 1405 257.5" stroke="#1e1a1a" stroke-width="2.9"/><path d="M1280 275 C1283.3 273.3 1286.3 270.4 1290 270 C1294.2 269.5 1299.1 270 1302.5 272.5 C1304.9 274.3 1305.5 278.3 1305 281.2 C1304.5 284.2 1302.8 287.7 1300 288.8 C1296.1 290.2 1291.5 288.8 1287.5 287.5 C1285 286.7 1283.3 284.2 1281.2 282.5" stroke="#1e1a1a" stroke-width="2.9"/><path d="M1278.8 297.5 C1282.5 295.8 1285.9 293 1290 292.5 C1293.4 292.1 1297.3 292.9 1300 295 C1302.1 296.6 1303.3 300 1302.5 302.5 C1301.7 304.8 1298.6 305.6 1296.2 306.2 C1291.4 307.7 1286.3 309.4 1281.2 308.8 C1279.2 308.5 1278.8 305.4 1277.5 303.8" stroke="#1e1a1a" stroke-width="2.9"/><path d="M1300 300 C1305 299.2 1310 296.8 1315 297.5 C1317.1 297.8 1319.8 300.7 1318.8 302.5 C1317.2 305.3 1313.2 306 1310 306.2 C1306.6 306.5 1303.3 304.6 1300 303.8" stroke="#1e1a1a" stroke-width="2.9"/><path d="M1282.5 290 C1289.2 290.8 1296 290.8 1302.5 292.5 C1309 294.2 1315.2 297.2 1321.2 300 C1327.7 303 1334.3 305.9 1340 310 C1344.8 313.4 1348.5 318.1 1352.5 322.5 C1356.9 327.3 1360.6 332.7 1365 337.5 C1369 341.9 1373.3 345.8 1377.5 350 C1381.7 354.2 1385.5 358.6 1390 362.5 C1394.7 366.6 1400 370 1405 373.8" stroke="#1e1a1a" stroke-width="3.1"/><path d="M1027.5 433.7 L1028 457.2" stroke="#1e1a1a" stroke-width="10.5"/><path d="M1027.5 433.7 L1028 457.2" stroke="#fff" stroke-width="4.6"/><path d="M1065 424.2 L1065.5 447.7" stroke="#1e1a1a" stroke-width="10.5"/><path d="M1065 424.2 L1065.5 447.7" stroke="#fff" stroke-width="4.6"/><path d="M1137.5 405.7 L1138 429.2" stroke="#1e1a1a" stroke-width="10.5"/><path d="M1137.5 405.7 L1138 429.2" stroke="#fff" stroke-width="4.6"/><path d="M1205.5 388.4 L1206 411.9" stroke="#1e1a1a" stroke-width="10.5"/><path d="M1205.5 388.4 L1206 411.9" stroke="#fff" stroke-width="4.6"/><path d="M1240 379.6 L1240.5 403.1" stroke="#1e1a1a" stroke-width="10.5"/><path d="M1240 379.6 L1240.5 403.1" stroke="#fff" stroke-width="4.6"/><ellipse cx="969.8" cy="438.3" rx="2.5" ry="2.5" transform="rotate(0 969.8 438.3)" stroke="#1e1a1a" stroke-width="2" fill="#fff"/><path d="M1005 409 L1014 409 L1014 419 L1018 419 L1009.5 429 L1001 419 L1005 419 Z" fill="#c8102e" stroke="#c8102e" stroke-width="1"/><path d="M1301 344 L1310 344 L1310 355 L1314 355 L1305.5 366 L1297 355 L1301 355 Z" fill="#c8102e" stroke="#c8102e" stroke-width="1"/></g>
<g clip-path="url(#cp3)" fill="none" stroke-linecap="round" stroke-linejoin="round"><path d="M130 971.3 C149.4 968.7 168.8 966.1 188.1 963.5 C224.3 958.7 260.3 952.6 296.6 949 C298.3 948.8 298.9 951.7 300.5 952.3 C302 952.8 303.9 952.9 305.4 952.3 C307 951.5 307.5 948.9 309.2 948.4 C320.3 945.2 331.8 943.6 343.1 941.2 C358 938.1 372.6 933.7 387.7 932.1 C389.5 931.9 389.9 935.3 391.6 936 C393.1 936.6 395 936.7 396.4 936 C398.2 935.1 398.7 932.7 400.3 931.5 C403 929.7 405.8 927.8 409 927.1 C412.8 926.2 416.9 925.8 420.6 926.7 C423.6 927.4 426.3 929.3 428.4 931.5 C430.7 934 431.5 937.4 433.2 940.3 C435.3 943.6 437.8 946.7 440 949.9" stroke="#1e1a1a" stroke-width="3"/><path d="M130 994.5 C149.4 991.9 168.8 989.4 188.1 986.8 C221.7 982.3 255.4 978.2 288.9 973.2 C325.1 967.8 361 960 397.4 955.8 C400 955.5 402.8 957.4 404.2 959.6 C406.2 963 406.9 967.3 406.7 971.3 C405.9 983.6 403.2 995.8 401.3 1008.1 C396.8 1036.7 393.1 1065.5 387.7 1094 C383.4 1116.8 378.3 1139.4 372.2 1161.8 C369.8 1170.5 367.1 1179.3 362.5 1187 C360.4 1190.6 356.9 1193.9 352.8 1194.8 C330.5 1199.2 307.6 1200.1 285 1202.5 C252.7 1205.9 220.5 1209.4 188.1 1212.2 C168.8 1213.9 149.4 1214.8 130 1216.1" stroke="#1e1a1a" stroke-width="3"/><path d="M432 938 C430.3 963.7 429.6 989.4 426.8 1015 C424.4 1037 420.1 1058.9 416.3 1080.7 C414 1093.9 411.8 1107.1 408.4 1120 C405.5 1130.9 400.6 1141.2 397.4 1152 C393 1166.8 391.2 1182.3 385.8 1196.7 C383.4 1203.2 379.8 1210 374.1 1214 C368.1 1218.3 360.1 1218.7 352.8 1220 C333.5 1223.3 314.1 1225.3 294.7 1227.7 C272.1 1230.5 249.5 1233.3 226.9 1235.4 C194.6 1238.4 162.3 1240.6 130 1243.2" stroke="#1e1a1a" stroke-width="3"/><path d="M442.5 1012.4 C443.4 1017.7 445.5 1022.9 445.2 1028.2 C444.7 1037.1 442.1 1045.8 440 1054.5 C436.8 1067.7 432.1 1080.6 429.4 1093.9 C425.6 1113.1 423.2 1132.6 420.6 1152 C419 1163.6 420.4 1175.8 416.8 1187 C415.5 1191 410.3 1192.2 407 1194.8" stroke="#1e1a1a" stroke-width="3"/><path d="M432 937.6 C435.5 943.3 439.1 948.8 442.5 954.6 C447.1 962.4 451.7 970.2 455.7 978.3 C457.4 981.6 459.4 985.1 459.6 988.8 C459.8 993.3 458.2 997.7 457 1002 C456 1005.6 456.5 1011.3 453 1012.4 C450.2 1013.3 451.3 1006.4 449 1004.5 C448 1003.6 446.3 1006.6 445.2 1005.9 C443.1 1004.5 443 1001.1 441.2 999.3 C439.4 997.5 437.2 995.4 434.6 995.4 C433.2 995.4 432.7 998.1 433.3 999.3 C435.5 1004.1 439.4 1008 442.5 1012.4" stroke="#1e1a1a" stroke-width="3"/><path d="M404.2 1179.3 C407.1 1185.7 411.4 1191.7 412.9 1198.6 C413.7 1202.5 410.5 1206.4 411 1210.3 C411.8 1216.9 415.4 1223 416.8 1229.6 C418 1236 419.1 1242.5 418.7 1249 C418.1 1258.8 417.6 1269 413.9 1278.1 C411.5 1283.8 406.4 1288.2 401.3 1291.6 C395.5 1295.5 388.7 1298 381.9 1299.4 C372.4 1301.3 362.4 1302.8 352.8 1301.3 C348.7 1300.7 346.2 1296.4 343.1 1293.6 C339.1 1289.9 336.7 1283.6 331.5 1281.9 C322.9 1279.2 313.4 1280.4 304.4 1281 C246.2 1284.9 188.1 1290.7 130 1295.5" stroke="#1e1a1a" stroke-width="3"/><path d="M499 973 C493.3 974.8 486.9 975 481.9 978.3 C478.5 980.6 476.4 984.8 475.4 988.8 C473.3 997.3 473.6 1006.3 472.7 1015 C471.8 1023.3 473 1032.1 470.1 1040 C469.3 1042.1 465.2 1041.4 463.5 1040 C461 1037.8 462.1 1033 459.6 1030.8 C458.2 1029.6 454.6 1030.3 454.3 1032.1 C453.1 1039.5 454.6 1047.1 455.7 1054.5 C456.4 1059 456.7 1064.1 459.6 1067.6 C461.6 1070 467.9 1067.1 468.8 1070.2 C471.1 1077.8 468 1086.1 467.5 1094 C466.2 1113.3 464.6 1132.7 463.2 1152 C461.8 1171.4 460.5 1190.9 459.3 1210.3 C458.5 1223.2 458.4 1236.1 457.4 1249 C456.4 1262 453.9 1274.8 453.5 1287.8 C453.2 1297.5 452.5 1307.6 455.4 1316.8 C457.2 1322.5 462.4 1326.6 467 1330.4 C469.7 1332.6 473.3 1334 476.8 1334.3 C488.4 1335.3 500.2 1336.5 511.6 1334.3 C514.8 1333.7 515.6 1329.2 517.4 1326.5 C519.5 1323.4 520.1 1318.9 523.3 1316.8 C526.6 1314.6 531 1314.9 534.9 1314.9 C605.9 1315.5 677 1317.5 748 1318.8" stroke="#1e1a1a" stroke-width="3"/><path d="M455 1034 C455.5 1040.7 455.5 1047.4 456.5 1054 C457.1 1058.1 458.6 1062 459.6 1066" stroke="#1e1a1a" stroke-width="4.8"/><path d="M492.3 973.6 C510.3 973.6 528.5 972.5 546.5 973.6 C548.5 973.7 549.8 975.8 551.4 977.1 C552.4 977.9 553 980.4 554.3 980 C557.4 978.9 558.7 974 562 973.6 C574.2 972 586.7 972.5 598.8 974.2 C600.9 974.4 601.2 977.6 602.7 979 C603.8 980 605.1 981.3 606.6 981.3 C608.4 981.3 610 980.1 611.4 979 C612.7 978 612.7 975.3 614.3 975.1 C626.6 974.2 638.9 974.7 651.1 976.1 C653 976.3 653.4 979.1 655 980 C656.1 980.6 657.7 981 658.9 980.6 C660.5 979.9 661 977.2 662.8 977.1 C675 976.1 687.4 976 699.6 977.5 C701.5 977.7 701.7 981 703.5 981.9 C705.2 982.9 707.4 983.4 709.3 982.9 C711 982.4 711.3 979.2 713.1 979 C724.7 977.6 736.4 978.4 748 978" stroke="#1e1a1a" stroke-width="3"/><path d="M499 973 L492.3 973.2" stroke="#1e1a1a" stroke-width="3"/><path d="M509.7 1000.3 L666.6 1002.3 L748 1004.2" stroke="#1e1a1a" stroke-width="3"/><path d="M509.7 1037.1 L670.5 1042.9 L748 1043.9" stroke="#1e1a1a" stroke-width="3"/><path d="M485.5 1123.1 C485.1 1139.2 485 1155.4 484.5 1171.5 C484 1187.7 482.6 1203.8 482.6 1219.9 C482.6 1223.2 482.9 1226.8 484.5 1229.6 C485.7 1231.7 488.4 1232.2 490.3 1233.5" stroke="#1e1a1a" stroke-width="3"/><path d="M501.9 1235.4 L670.5 1241.3 L748 1245.1" stroke="#1e1a1a" stroke-width="3"/><path d="M457.4 1252.9 C461.9 1255.5 466 1258.9 470.9 1260.6 C475.9 1262.3 481.2 1262.8 486.4 1263 C573.6 1266 660.8 1267.9 748 1270.3" stroke="#1e1a1a" stroke-width="3"/><path d="M441.9 1210.3 C443.2 1209.6 444.7 1207.3 445.8 1208.3 C448.2 1210.8 449.3 1214.5 449.6 1218 C450.6 1227 450.7 1236.2 449.6 1245.1 C449.4 1246.9 447.4 1249.8 445.8 1249 C443.2 1247.7 442.2 1244.1 441.9 1241.3 C440.8 1231 441.9 1220.6 441.9 1210.3" stroke="#1e1a1a" stroke-width="3"/><path d="M126.1 924.8 C133.9 932.5 142.2 939.8 149.4 948 C155.8 955.3 161 963.5 166.8 971.3" stroke="#1e1a1a" stroke-width="14"/><path d="M126.1 924.8 C133.9 932.5 142.2 939.8 149.4 948 C155.8 955.3 161 963.5 166.8 971.3" stroke="#fff" stroke-width="7.2"/><path d="M128 1126 C133.7 1139 139.7 1151.9 145 1165 C150 1177.4 153.7 1190.3 159 1202.5 C165.5 1217.6 173.5 1232.1 180.4 1247 C183.5 1253.6 186.1 1260.3 189 1267" stroke="#1e1a1a" stroke-width="14"/><path d="M128 1126 C133.7 1139 139.7 1151.9 145 1165 C150 1177.4 153.7 1190.3 159 1202.5 C165.5 1217.6 173.5 1232.1 180.4 1247 C183.5 1253.6 186.1 1260.3 189 1267" stroke="#fff" stroke-width="7.2"/><path d="M128.1 1000.3 C132.6 1005.2 136.8 1010.3 141.6 1014.9 C144.6 1017.7 147.8 1020.5 151.3 1022.6 C154.3 1024.4 157.5 1026.5 161 1026.5 C163.6 1026.5 166.6 1024.9 167.8 1022.6 C171.1 1016 171.8 1008.4 173.6 1001.3 C175.4 993.9 177.8 986.6 178.4 979 C178.8 975.1 177.6 971.1 176.5 967.4 C173.7 958.2 170 949.3 166.8 940.3 C162.3 927.4 157.5 914.5 153.3 901.5 C150.1 891.9 146.6 882.3 144.5 872.4 C143.7 868.3 143.7 864 144.5 859.8 C145.4 855.4 147.7 851.4 149.4 847.3 C151.3 842.4 152.8 837.4 155.2 832.7 C156.1 831 157.2 828.8 159.1 828.3 C161 827.7 163.4 828.8 164.9 830.2 C168.8 834 171.5 838.9 174.6 843.4 C185.7 859.4 196.4 875.8 207.5 891.8 C217 905.5 226.9 918.9 236.6 932.5 C241.1 938.9 245.3 945.7 250.1 951.9 C252.1 954.4 254.7 956.4 256.9 958.7" stroke="#1e1a1a" stroke-width="14"/><path d="M128.1 1000.3 C132.6 1005.2 136.8 1010.3 141.6 1014.9 C144.6 1017.7 147.8 1020.5 151.3 1022.6 C154.3 1024.4 157.5 1026.5 161 1026.5 C163.6 1026.5 166.6 1024.9 167.8 1022.6 C171.1 1016 171.8 1008.4 173.6 1001.3 C175.4 993.9 177.8 986.6 178.4 979 C178.8 975.1 177.6 971.1 176.5 967.4 C173.7 958.2 170 949.3 166.8 940.3 C162.3 927.4 157.5 914.5 153.3 901.5 C150.1 891.9 146.6 882.3 144.5 872.4 C143.7 868.3 143.7 864 144.5 859.8 C145.4 855.4 147.7 851.4 149.4 847.3 C151.3 842.4 152.8 837.4 155.2 832.7 C156.1 831 157.2 828.8 159.1 828.3 C161 827.7 163.4 828.8 164.9 830.2 C168.8 834 171.5 838.9 174.6 843.4 C185.7 859.4 196.4 875.8 207.5 891.8 C217 905.5 226.9 918.9 236.6 932.5 C241.1 938.9 245.3 945.7 250.1 951.9 C252.1 954.4 254.7 956.4 256.9 958.7" stroke="#fff" stroke-width="7.2"/><path d="M349.9 943.2 C341.2 929.9 332.5 916.7 323.8 903.4 C314.8 889.9 305.3 876.5 296.6 862.8 C289.8 852 283.8 840.8 277.3 829.8 C275.7 827.2 274 824.6 272.4 822.1" stroke="#1e1a1a" stroke-width="14"/><path d="M349.9 943.2 C341.2 929.9 332.5 916.7 323.8 903.4 C314.8 889.9 305.3 876.5 296.6 862.8 C289.8 852 283.8 840.8 277.3 829.8 C275.7 827.2 274 824.6 272.4 822.1" stroke="#fff" stroke-width="7.2"/><path d="M246.3 816.2 C244.4 821.4 242.2 826.4 240.8 831.8 C239.7 836.2 238.7 840.8 238.9 845.3 C239.2 851.2 240.7 857.1 242.4 862.8 C245.1 872 248.7 880.9 252.1 889.9 C256.4 901.6 261.3 913 265.6 924.8 C269.4 935 273.3 945.2 276.3 955.8 C277.7 960.8 279.1 966 278.8 971.3 C278.3 979.2 275.8 986.8 273.8 994.5 C272.1 1000.7 270.6 1007 268 1012.9 C267.1 1014.8 265.7 1017.2 263.7 1017.4 C261.4 1017.6 259.4 1015.5 257.9 1013.9 C251 1006.5 244.7 998.6 238.5 990.6 C231.2 981.3 224.4 971.4 217.2 962 C215.7 959.9 214.7 957.1 212.3 956.1 C210.6 955.5 208.4 956.7 207.1 958.1 C204.5 961 202.8 964.7 201.3 968.4 C199.1 973.7 196.9 979.1 195.9 984.8 C194.5 992.5 193.6 1000.3 194.3 1008.1 C194.9 1014.8 197.5 1021.1 199.8 1027.4 C201.9 1033.4 204.9 1039.1 207.5 1044.9 C212 1055.2 216.9 1065.4 221.1 1075.9 C226 1088.2 229.9 1101 234.6 1113.4 C239.6 1126.4 244.4 1139.4 250.1 1152.1 C256.1 1165.3 262.9 1178 269.5 1190.9 C274.5 1200.6 280.7 1209.9 285 1219.9 C288.8 1228.7 291 1238 293.7 1247.1 C294.9 1250.9 295.7 1254.8 296.6 1258.7" stroke="#1e1a1a" stroke-width="14"/><path d="M246.3 816.2 C244.4 821.4 242.2 826.4 240.8 831.8 C239.7 836.2 238.7 840.8 238.9 845.3 C239.2 851.2 240.7 857.1 242.4 862.8 C245.1 872 248.7 880.9 252.1 889.9 C256.4 901.6 261.3 913 265.6 924.8 C269.4 935 273.3 945.2 276.3 955.8 C277.7 960.8 279.1 966 278.8 971.3 C278.3 979.2 275.8 986.8 273.8 994.5 C272.1 1000.7 270.6 1007 268 1012.9 C267.1 1014.8 265.7 1017.2 263.7 1017.4 C261.4 1017.6 259.4 1015.5 257.9 1013.9 C251 1006.5 244.7 998.6 238.5 990.6 C231.2 981.3 224.4 971.4 217.2 962 C215.7 959.9 214.7 957.1 212.3 956.1 C210.6 955.5 208.4 956.7 207.1 958.1 C204.5 961 202.8 964.7 201.3 968.4 C199.1 973.7 196.9 979.1 195.9 984.8 C194.5 992.5 193.6 1000.3 194.3 1008.1 C194.9 1014.8 197.5 1021.1 199.8 1027.4 C201.9 1033.4 204.9 1039.1 207.5 1044.9 C212 1055.2 216.9 1065.4 221.1 1075.9 C226 1088.2 229.9 1101 234.6 1113.4 C239.6 1126.4 244.4 1139.4 250.1 1152.1 C256.1 1165.3 262.9 1178 269.5 1190.9 C274.5 1200.6 280.7 1209.9 285 1219.9 C288.8 1228.7 291 1238 293.7 1247.1 C294.9 1250.9 295.7 1254.8 296.6 1258.7" stroke="#fff" stroke-width="7.2"/><path d="M504.8 847 C505.2 865.2 505.6 883.3 506 901.5 C506.6 926 507.8 950.5 507.8 975 C507.8 983.4 506.6 991.7 506 1000" stroke="#1e1a1a" stroke-width="12"/><path d="M504.8 847 C505.2 865.2 505.6 883.3 506 901.5 C506.6 926 507.8 950.5 507.8 975 C507.8 983.4 506.6 991.7 506 1000" stroke="#fff" stroke-width="5.5"/><path d="M501 1001 C500.7 1014 500.6 1027 500 1040 C499.2 1058 497.7 1076 497 1094 C496.3 1112.7 496.3 1131.3 496 1150 C495.7 1163.6 495.4 1177.3 495.2 1190.9 C494.8 1222.6 494.5 1254.3 494.2 1286" stroke="#1e1a1a" stroke-width="13"/><path d="M501 1001 C500.7 1014 500.6 1027 500 1040 C499.2 1058 497.7 1076 497 1094 C496.3 1112.7 496.3 1131.3 496 1150 C495.7 1163.6 495.4 1177.3 495.2 1190.9 C494.8 1222.6 494.5 1254.3 494.2 1286" stroke="#fff" stroke-width="7"/><path d="M659 976 C660 960.7 660.9 945.3 662 930 C663.2 913.3 664.5 896.7 666 880 C666.8 870.7 667.3 861.2 669 852 C669.5 849.4 669.9 845.3 672.5 845 C674.9 844.7 676 848.6 676.5 851 C678.4 860.5 679.1 870.3 679.5 880 C680.2 896.7 680.2 913.3 680 930 C679.8 945 679.2 960 678.5 975 C678 986.7 677.1 998.3 676.5 1010 C676 1020 675.1 1030 675 1040 C674.9 1045 675 1050.1 676 1055 C676.5 1057.3 677.2 1061 679.5 1061 C681.8 1061 682.6 1057.3 683 1055 C684 1048.4 683.6 1041.7 683.5 1035 C683.3 1026.7 682.5 1018.3 682 1010" stroke="#1e1a1a" stroke-width="12"/><path d="M659 976 C660 960.7 660.9 945.3 662 930 C663.2 913.3 664.5 896.7 666 880 C666.8 870.7 667.3 861.2 669 852 C669.5 849.4 669.9 845.3 672.5 845 C674.9 844.7 676 848.6 676.5 851 C678.4 860.5 679.1 870.3 679.5 880 C680.2 896.7 680.2 913.3 680 930 C679.8 945 679.2 960 678.5 975 C678 986.7 677.1 998.3 676.5 1010 C676 1020 675.1 1030 675 1040 C674.9 1045 675 1050.1 676 1055 C676.5 1057.3 677.2 1061 679.5 1061 C681.8 1061 682.6 1057.3 683 1055 C684 1048.4 683.6 1041.7 683.5 1035 C683.3 1026.7 682.5 1018.3 682 1010" stroke="#fff" stroke-width="5.5"/><path d="M686 1008 C687.3 1005.7 687.3 1001 690 1001 C692.7 1001 693.9 1005.3 694 1008 C694.6 1025.3 692.6 1042.7 692 1060 C691.6 1071.3 692 1082.7 690.9 1094 C689.4 1109.4 686.3 1124.7 684 1140 C681.4 1157 678.2 1173.8 676.3 1190.9 C674.5 1207.2 673.6 1223.6 673 1240 C672.3 1257.7 672.7 1275.3 672.5 1293" stroke="#1e1a1a" stroke-width="13"/><path d="M686 1008 C687.3 1005.7 687.3 1001 690 1001 C692.7 1001 693.9 1005.3 694 1008 C694.6 1025.3 692.6 1042.7 692 1060 C691.6 1071.3 692 1082.7 690.9 1094 C689.4 1109.4 686.3 1124.7 684 1140 C681.4 1157 678.2 1173.8 676.3 1190.9 C674.5 1207.2 673.6 1223.6 673 1240 C672.3 1257.7 672.7 1275.3 672.5 1293" stroke="#fff" stroke-width="7"/><path d="M128 1252 L136 1272" stroke="#1e1a1a" stroke-width="14"/><path d="M128 1252 L136 1272" stroke="#fff" stroke-width="8"/><path d="M231.5 1231 L243 1262" stroke="#1e1a1a" stroke-width="14"/><path d="M231.5 1231 L243 1262" stroke="#fff" stroke-width="8"/><path d="M342 1219 L351.5 1254" stroke="#1e1a1a" stroke-width="14"/><path d="M342 1219 L351.5 1254" stroke="#fff" stroke-width="8"/><path d="M553.3 1263.5 L552.8 1290.5" stroke="#1e1a1a" stroke-width="17"/><path d="M553.3 1263.5 L552.8 1290.5" stroke="#fff" stroke-width="10.5"/><path d="M611.5 1265 L611 1292" stroke="#1e1a1a" stroke-width="17"/><path d="M611.5 1265 L611 1292" stroke="#fff" stroke-width="10.5"/><path d="M731.5 1268 L731 1295" stroke="#1e1a1a" stroke-width="17"/><path d="M731.5 1268 L731 1295" stroke="#fff" stroke-width="10.5"/><ellipse cx="416.8" cy="951.9" rx="6" ry="4.5" transform="rotate(-10 416.8 951.9)" stroke="#1e1a1a" stroke-width="2" fill="#fff"/><ellipse cx="552.8" cy="1286.5" rx="3.6" ry="3.6" transform="rotate(0 552.8 1286.5)" stroke="#1e1a1a" stroke-width="2" fill="#fff"/><ellipse cx="611" cy="1288" rx="3.6" ry="3.6" transform="rotate(0 611 1288)" stroke="#1e1a1a" stroke-width="2" fill="#fff"/><ellipse cx="731" cy="1291" rx="3.6" ry="3.6" transform="rotate(0 731 1291)" stroke="#1e1a1a" stroke-width="2" fill="#fff"/><ellipse cx="494.5" cy="1286" rx="3.2" ry="3.2" transform="rotate(0 494.5 1286)" stroke="#1e1a1a" stroke-width="2" fill="#fff"/><ellipse cx="672.5" cy="1293" rx="3.2" ry="3.2" transform="rotate(0 672.5 1293)" stroke="#1e1a1a" stroke-width="2" fill="#fff"/><path d="M508.2 879 L512 972 L507.5 972 Z" fill="#1e1a1a"/><path d="M671.5 884 L674.5 893 L666.5 972 L663.5 972 Z" fill="#1e1a1a"/></g>
<g clip-path="url(#cp4)" fill="none" stroke-linecap="round" stroke-linejoin="round"><path d="M815.2 1031.7 C826.2 1036.2 837.1 1040.8 848.1 1045.3 C859.1 1049.8 869.9 1054.6 881 1058.8 C900.6 1066.2 920.4 1072.9 940 1080 C960 1087.3 980 1094.7 1000 1102 C1016.6 1108.1 1033.4 1113.9 1050 1120 C1063.4 1124.9 1076.7 1130.1 1090 1135.2 C1098.6 1138.5 1107.2 1141.8 1115.8 1145.1 C1127 1149.4 1138.1 1153.8 1149.4 1158 C1156 1160.4 1162.7 1162.4 1169.3 1164.9 C1182.6 1170 1195.7 1175.5 1208.9 1180.8 C1215.5 1183.4 1222 1186.3 1228.7 1188.7 C1241.8 1193.5 1255.2 1197.8 1268.3 1202.6 C1275 1205 1281.3 1208.6 1288.1 1210.5 C1295.2 1212.5 1302.6 1213.6 1310 1214.5 C1315.9 1215.2 1321.9 1215.8 1327.8 1215.5 C1333.6 1215.2 1339.3 1213.7 1345 1212.5 C1349.2 1211.6 1353.5 1210.6 1357.5 1209 C1373.8 1202.6 1389.8 1195.5 1406 1188.7" stroke="#1e1a1a" stroke-width="3"/><path d="M865.6 1028.8 C872.7 1031.7 879.9 1034.4 886.9 1037.5 C892.2 1039.9 897 1043.3 902.4 1045.3 C932.5 1056.3 963.3 1065.4 993.4 1076.3 C1025.8 1088.1 1057.8 1101 1090 1113.4 C1096.6 1116 1103.1 1118.8 1109.8 1121.3 C1145.4 1134.7 1181.1 1147.9 1216.8 1161 C1240.5 1169.7 1264.2 1178.5 1288.1 1186.7 C1295.3 1189.2 1302.6 1191.4 1310 1193 C1315.8 1194.3 1321.8 1195.6 1327.8 1195.5 C1333.6 1195.4 1339.3 1193.9 1345 1192.5 C1349.3 1191.4 1353.4 1189.9 1357.5 1188.2 C1373.8 1181.4 1389.8 1174 1406 1166.9" stroke="#1e1a1a" stroke-width="3"/><path d="M815.2 1025.9 C816.6 1025.3 817.9 1024.4 819.3 1024 C832 1020.1 844.8 1016.6 857.5 1012.8 C868.8 1009.4 880.2 1006.6 891.3 1002.6 C896.8 1000.6 901.6 997.1 907 994.8 C920.4 989.2 934 984.3 947.5 979 C958.8 974.5 970.4 970.9 981.3 965.5 C990 961.2 997.7 955.1 1006 950 C1011.7 946.5 1017.6 943.2 1023.4 939.7 C1031.2 935 1039.1 930.3 1046.9 925.6 C1056.3 920 1065.7 914.5 1075 908.8 C1082.9 903.9 1090.7 898.9 1098.4 893.8 C1104.8 889.5 1110.6 884.5 1117.2 880.6 C1122.9 877.2 1129.2 875.1 1135 872 C1143.4 867.5 1152 863.2 1160 858 C1167 853.5 1173.7 848.5 1180 843 C1184.4 839.1 1188.1 834.4 1192 830 C1193.7 828.1 1195.3 826 1197 824" stroke="#1e1a1a" stroke-width="3"/><path d="M866.5 1028.5 C874.8 1025.5 883.1 1022.7 891.3 1019.5 C896.6 1017.4 901.7 1014.9 907 1012.8 C920.5 1007.4 934 1002.3 947.5 997 C966.3 989.6 985.5 983.1 1003.8 974.5 C1010.3 971.4 1015.4 965.9 1021.6 962.2 C1029.8 957.4 1038.6 953.7 1046.9 949 C1056.4 943.7 1065.8 938.1 1075 932.2 C1084.6 926 1093.6 918.9 1103.1 912.5 C1110.2 907.7 1117.1 902.5 1124.7 898.4 C1132.8 894 1141.6 890.8 1150 887 C1159.2 882.9 1169 880 1177.6 874.7 C1182.7 871.5 1186.9 866.9 1190.3 862 C1193.8 856.9 1196.2 850.9 1198 845 C1200.1 838.2 1200.7 831 1202 824" stroke="#1e1a1a" stroke-width="3"/><path d="M958.8 1064.5 C970 1060.8 981.9 1058.6 992.5 1053.3 C1000.2 1049.5 1005.6 1042.2 1012.8 1037.5 C1020.7 1032.4 1029.6 1029.1 1037.5 1024 C1048.8 1016.6 1059.5 1008.1 1070.3 1000 C1078.2 994.1 1086.1 988.2 1093.8 981.9 C1103 974.3 1111.9 966.2 1120.9 958.4" stroke="#1e1a1a" stroke-width="3"/><path d="M1140 899 L1244.4 935 L1406 985.7" stroke="#1e1a1a" stroke-width="3"/><path d="M1137 956 L1253.7 996.5 L1406 1047.3" stroke="#1e1a1a" stroke-width="3"/><path d="M1177.6 877.3 L1215.7 892.5" stroke="#1e1a1a" stroke-width="3"/><path d="M816 1026 C815.7 1027.5 815.4 1029 815.2 1030.5 C810.6 1066.4 803.4 1102.1 801.6 1138.3 C801.4 1143 805.2 1147.8 809.4 1149.9 C820.2 1155.3 832.3 1158.4 844.3 1159.6 C846.6 1159.8 847.5 1156 848.1 1153.8 C849.4 1148.8 848 1143.1 850 1138.3 C850.9 1136.3 853.8 1134.7 855.9 1135.4 C937.8 1163.9 1019.2 1193.8 1100 1225.4 C1117.1 1232.1 1132.4 1242.9 1149.4 1250.1 C1175.4 1261.1 1202.8 1268.6 1228.7 1279.8 C1232.1 1281.3 1235.5 1284.2 1236.6 1287.8 C1239.6 1297.3 1237.4 1308 1240.6 1317.5 C1241.6 1320.6 1245.5 1322.1 1248.5 1323.4 C1261.4 1328.8 1274.6 1333.7 1288.1 1337.3 C1294.5 1339 1301.3 1340.3 1307.9 1339.3 C1315 1338.3 1321.6 1334.9 1327.8 1331.4 C1336.9 1326.3 1347.4 1321.9 1353.5 1313.5 C1358.7 1306.4 1356.6 1296.1 1359.5 1287.8 C1361.3 1282.8 1364.2 1278.2 1367.4 1273.9 C1370.2 1270.2 1374.7 1267.9 1377.3 1264 C1378.8 1261.7 1379.2 1258.8 1379.3 1256.1 C1379.7 1248.1 1377.6 1239.9 1379 1232 C1379.6 1228.8 1381.8 1224.5 1385 1224.5 C1387.8 1224.5 1388.3 1229.2 1388.8 1232 C1389.6 1237.1 1386.5 1242.9 1388.8 1247.6 C1390.3 1250.7 1395 1251.4 1398.4 1251.4 C1401.2 1251.4 1403.5 1248.9 1406 1247.6" stroke="#1e1a1a" stroke-width="3"/><path d="M874.8 1060.9 L877 1107.9 A5.5 5.5 0 0 0 888 1108.1 L891.2 1061.1" fill="#fff" stroke="#1e1a1a" stroke-width="2.6"/><ellipse cx="883" cy="1061" rx="8.2" ry="3.3" transform="rotate(0.6 883 1061)" fill="#fff" stroke="#1e1a1a" stroke-width="2.3"/><path d="M983.3 1099.6 L983.5 1147.7 A5.5 5.5 0 0 0 994.5 1148.3 L999.7 1100.4" fill="#fff" stroke="#1e1a1a" stroke-width="2.6"/><ellipse cx="991.5" cy="1100" rx="8.2" ry="3.3" transform="rotate(3 991.5 1100)" fill="#fff" stroke="#1e1a1a" stroke-width="2.3"/><path d="M1093.3 1140.2 L1094 1187.8 A5.5 5.5 0 0 0 1105 1188.2 L1109.7 1140.8" fill="#fff" stroke="#1e1a1a" stroke-width="2.6"/><ellipse cx="1101.5" cy="1140.5" rx="8.2" ry="3.3" transform="rotate(2.4 1101.5 1140.5)" fill="#fff" stroke="#1e1a1a" stroke-width="2.3"/><path d="M1205.3 1183.5 L1205 1229.6 A5.5 5.5 0 0 0 1216 1230.4 L1221.7 1184.5" fill="#fff" stroke="#1e1a1a" stroke-width="2.6"/><ellipse cx="1213.5" cy="1184" rx="8.2" ry="3.3" transform="rotate(3.7 1213.5 1184)" fill="#fff" stroke="#1e1a1a" stroke-width="2.3"/><path d="M1034 856 C1043 852.3 1052.1 848.8 1061 845 C1069.1 841.5 1077.5 838.5 1085 834 C1089.2 831.5 1092.3 827.3 1096 824" stroke="#1e1a1a" stroke-width="14"/><path d="M1034 856 C1043 852.3 1052.1 848.8 1061 845 C1069.1 841.5 1077.5 838.5 1085 834 C1089.2 831.5 1092.3 827.3 1096 824" stroke="#fff" stroke-width="8.5"/><path d="M1106.6 822 L1126.9 879.8" stroke="#1e1a1a" stroke-width="13"/><path d="M1106.6 822 L1126.9 879.8" stroke="#fff" stroke-width="7.5"/><path d="M1203 820 L1218.2 896.3" stroke="#1e1a1a" stroke-width="13"/><path d="M1203 820 L1218.2 896.3" stroke="#fff" stroke-width="7.5"/><path d="M1218.2 820 C1221.6 834 1225 848 1228.4 862 C1233.5 883.2 1238.5 904.3 1243.6 925.5" stroke="#1e1a1a" stroke-width="13"/><path d="M1218.2 820 C1221.6 834 1225 848 1228.4 862 C1233.5 883.2 1238.5 904.3 1243.6 925.5" stroke="#fff" stroke-width="7.5"/><path d="M1296.9 820 L1304.5 846.8" stroke="#1e1a1a" stroke-width="13"/><path d="M1296.9 820 L1304.5 846.8" stroke="#fff" stroke-width="7.5"/><path d="M1298 820 C1303.2 847 1307.7 874.2 1313.7 901 C1315.5 908.9 1318.8 916.3 1321.4 924" stroke="#1e1a1a" stroke-width="13"/><path d="M1298 820 C1303.2 847 1307.7 874.2 1313.7 901 C1315.5 908.9 1318.8 916.3 1321.4 924" stroke="#fff" stroke-width="7.5"/><path d="M1147 889 C1157.2 884.2 1168 880.7 1177.6 874.7 C1182.7 871.5 1187.4 867.2 1190.3 862 C1195.2 853.3 1197.6 843.5 1200.5 834 C1201.9 829.5 1202.2 824.7 1203 820" stroke="#1e1a1a" stroke-width="13"/><path d="M1147 889 C1157.2 884.2 1168 880.7 1177.6 874.7 C1182.7 871.5 1187.4 867.2 1190.3 862 C1195.2 853.3 1197.6 843.5 1200.5 834 C1201.9 829.5 1202.2 824.7 1203 820" stroke="#fff" stroke-width="7.5"/><path d="M918 820 C914.1 860.1 910.2 900.2 906.3 940.3 C903.7 966.2 901.5 992.1 898.5 1018 C896.3 1037.4 893.6 1056.7 890.8 1076 C889.4 1085.4 887.5 1094.7 885.9 1104" stroke="#1e1a1a" stroke-width="15.5"/><path d="M918 820 C914.1 860.1 910.2 900.2 906.3 940.3 C903.7 966.2 901.5 992.1 898.5 1018 C896.3 1037.4 893.6 1056.7 890.8 1076 C889.4 1085.4 887.5 1094.7 885.9 1104" stroke="#fff" stroke-width="9.5"/><path d="M1026 820 C1023.5 840.7 1020.3 861.3 1018.6 882.1 C1017 901.4 1017.5 920.7 1016 940 C1014.5 960.1 1011.9 980 1009.5 1000 C1006.4 1025.5 1002.2 1050.8 999.3 1076.3 C996.7 1098.5 995.1 1120.8 993 1143" stroke="#1e1a1a" stroke-width="15.5"/><path d="M1026 820 C1023.5 840.7 1020.3 861.3 1018.6 882.1 C1017 901.4 1017.5 920.7 1016 940 C1014.5 960.1 1011.9 980 1009.5 1000 C1006.4 1025.5 1002.2 1050.8 999.3 1076.3 C996.7 1098.5 995.1 1120.8 993 1143" stroke="#fff" stroke-width="9.5"/><path d="M1177.6 824 C1170.8 825.7 1163.5 825.9 1157.3 829 C1153 831.1 1149.9 835.2 1147.2 839.2 C1144.7 843 1142.8 847.4 1142 851.9 C1139.3 867.8 1139.6 884.2 1137 900.1 C1134.6 915.2 1129.3 929.8 1127 945 C1124.3 963.2 1123.5 981.7 1122 1000 C1119.1 1036.5 1117.3 1073 1113.8 1109.4 C1112.5 1122.7 1109.7 1135.8 1107.8 1149 C1106.1 1160.7 1104.6 1172.3 1103 1184" stroke="#1e1a1a" stroke-width="15.5"/><path d="M1177.6 824 C1170.8 825.7 1163.5 825.9 1157.3 829 C1153 831.1 1149.9 835.2 1147.2 839.2 C1144.7 843 1142.8 847.4 1142 851.9 C1139.3 867.8 1139.6 884.2 1137 900.1 C1134.6 915.2 1129.3 929.8 1127 945 C1124.3 963.2 1123.5 981.7 1122 1000 C1119.1 1036.5 1117.3 1073 1113.8 1109.4 C1112.5 1122.7 1109.7 1135.8 1107.8 1149 C1106.1 1160.7 1104.6 1172.3 1103 1184" stroke="#fff" stroke-width="9.5"/><path d="M1406 935.6 C1397.5 940.7 1389.1 945.9 1380.6 950.9 C1374.7 954.3 1369.7 961 1362.9 961 C1358.7 961 1356.6 954.9 1355.2 950.9 C1352.3 942.8 1352.4 933.8 1350.2 925.5 C1345.7 908.4 1340.4 891.5 1335 874.7 C1332.8 867.8 1331.5 860.3 1327.3 854.4 C1325.1 851.3 1320.9 848.6 1317.2 849.4 C1303.8 852.2 1291.5 858.9 1279.1 864.6 C1272.9 867.4 1265.8 869.5 1261.5 874.7 C1256.9 880.3 1254.7 887.8 1253.7 895 C1251.2 913.5 1252.6 932.3 1251.2 950.9 C1249.3 976.3 1247.2 1001.8 1243.6 1027 C1239.7 1054.6 1233.1 1081.8 1228.7 1109.4 C1225.5 1129.2 1223.3 1149.1 1220.8 1168.9 C1218.4 1187.3 1216.3 1205.6 1214 1224" stroke="#1e1a1a" stroke-width="15.5"/><path d="M1406 935.6 C1397.5 940.7 1389.1 945.9 1380.6 950.9 C1374.7 954.3 1369.7 961 1362.9 961 C1358.7 961 1356.6 954.9 1355.2 950.9 C1352.3 942.8 1352.4 933.8 1350.2 925.5 C1345.7 908.4 1340.4 891.5 1335 874.7 C1332.8 867.8 1331.5 860.3 1327.3 854.4 C1325.1 851.3 1320.9 848.6 1317.2 849.4 C1303.8 852.2 1291.5 858.9 1279.1 864.6 C1272.9 867.4 1265.8 869.5 1261.5 874.7 C1256.9 880.3 1254.7 887.8 1253.7 895 C1251.2 913.5 1252.6 932.3 1251.2 950.9 C1249.3 976.3 1247.2 1001.8 1243.6 1027 C1239.7 1054.6 1233.1 1081.8 1228.7 1109.4 C1225.5 1129.2 1223.3 1149.1 1220.8 1168.9 C1218.4 1187.3 1216.3 1205.6 1214 1224" stroke="#fff" stroke-width="9.5"/><path d="M826.4 1037 L825.8 1092.7 A5.2 5.2 0 0 0 836.2 1093.3 L842.8 1038" fill="#fff" stroke="#1e1a1a" stroke-width="2.6"/><ellipse cx="834.6" cy="1037.5" rx="8.2" ry="3.3" transform="rotate(3.7 834.6 1037.5)" fill="#fff" stroke="#1e1a1a" stroke-width="2.3"/><path d="M932.9 1075.7 L930.8 1129.5 A5.2 5.2 0 0 0 941.2 1130.5 L949.3 1077.3" fill="#fff" stroke="#1e1a1a" stroke-width="2.6"/><ellipse cx="941.1" cy="1076.5" rx="8.2" ry="3.3" transform="rotate(5.4 941.1 1076.5)" fill="#fff" stroke="#1e1a1a" stroke-width="2.3"/><path d="M1041.4 1116.7 L1039.3 1170.5 A5.2 5.2 0 0 0 1049.7 1171.5 L1057.8 1118.3" fill="#fff" stroke="#1e1a1a" stroke-width="2.6"/><ellipse cx="1049.6" cy="1117.5" rx="8.2" ry="3.3" transform="rotate(5.4 1049.6 1117.5)" fill="#fff" stroke="#1e1a1a" stroke-width="2.3"/><path d="M1151.1 1159 L1150.8 1213.7 A5.2 5.2 0 0 0 1161.2 1214.3 L1167.5 1160" fill="#fff" stroke="#1e1a1a" stroke-width="2.6"/><ellipse cx="1159.3" cy="1159.5" rx="8.2" ry="3.3" transform="rotate(3.5 1159.3 1159.5)" fill="#fff" stroke="#1e1a1a" stroke-width="2.3"/><path d="M1266.1 1204.3 L1264.8 1258.6 A5.2 5.2 0 0 0 1275.2 1259.4 L1282.5 1205.7" fill="#fff" stroke="#1e1a1a" stroke-width="2.6"/><ellipse cx="1274.3" cy="1205" rx="8.2" ry="3.3" transform="rotate(4.6 1274.3 1205)" fill="#fff" stroke="#1e1a1a" stroke-width="2.3"/><path d="M825.9 1108.2 L831 1122.8 L826.8 1121.8 L822.2 1140.2 L814.1 1138.2 L818.7 1119.8 L814.5 1118.7 Z" fill="#c8102e" stroke="#c8102e" stroke-width="1"/><path d="M879.2 1124.7 L884.3 1139.3 L880.1 1138.3 L875.5 1156.7 L867.4 1154.7 L872 1136.3 L867.8 1135.2 Z" fill="#c8102e" stroke="#c8102e" stroke-width="1"/><path d="M930.5 1144.1 L935.6 1158.7 L931.4 1157.7 L926.8 1176.1 L918.7 1174.1 L923.3 1155.7 L919.1 1154.6 Z" fill="#c8102e" stroke="#c8102e" stroke-width="1"/><path d="M985.7 1163.5 L990.8 1178.1 L986.6 1177.1 L982 1195.5 L973.9 1193.5 L978.5 1175.1 L974.3 1174 Z" fill="#c8102e" stroke="#c8102e" stroke-width="1"/><path d="M1040.9 1184.8 L1046 1199.4 L1041.8 1198.4 L1037.2 1216.8 L1029.1 1214.8 L1033.7 1196.4 L1029.5 1195.3 Z" fill="#c8102e" stroke="#c8102e" stroke-width="1"/><path d="M1096.2 1207 L1101.3 1221.6 L1097.1 1220.6 L1092.5 1239 L1084.4 1237 L1089 1218.6 L1084.8 1217.5 Z" fill="#c8102e" stroke="#c8102e" stroke-width="1"/><path d="M1153.3 1228.7 L1158.4 1243.3 L1154.2 1242.3 L1149.6 1260.7 L1141.5 1258.7 L1146.1 1240.3 L1141.9 1239.2 Z" fill="#c8102e" stroke="#c8102e" stroke-width="1"/><path d="M1207.8 1252.5 L1212.9 1267.1 L1208.7 1266.1 L1204.1 1284.5 L1196 1282.5 L1200.6 1264.1 L1196.4 1263 Z" fill="#c8102e" stroke="#c8102e" stroke-width="1"/><path d="M1266.3 1276.2 L1271.4 1290.8 L1267.2 1289.8 L1262.6 1308.2 L1254.5 1306.2 L1259.1 1287.8 L1254.9 1286.7 Z" fill="#c8102e" stroke="#c8102e" stroke-width="1"/></g>
<g fill="none" stroke="#686868" stroke-width="3.2">
<rect x="130" y="75" width="616.5" height="540.5" rx="2"/>
<rect x="789.5" y="74" width="616" height="541.5" rx="2"/>
<rect x="130.75" y="824" width="616.25" height="543" rx="2"/>
<rect x="790.5" y="824" width="615.5" height="543" rx="2"/>
</g>
<g stroke-width="3.2" fill="none">
<path d="M133 75.2 H744" stroke="#ababab"/>
<path d="M132 615.5 H744.5 M791.5 615.5 H1403.5 M132.75 1367 H745 M792.5 1367 H1404" stroke="#585858"/>
</g>
<g font-size="48.5">
<text x="59.5" y="693">Split the divider to both sides and</text>
<text x="99.5" y="740.5">install it into the base card slot</text>
<text x="788" y="694.5">Split the horizontal rail to both sides</text>
<text x="805.5" y="742">and install it into the base card slot</text>
</g>
<g font-size="50.35">
<text x="62" y="1436">The buckle design on both sides</text>
<text x="100" y="1486.5">of the shelf, two or more sets</text>
<text x="78" y="1537">can be connected to each other</text>
<text x="809" y="1438">The width of the pot slot can be</text>
<text x="830" y="1488.5">adjusted freely when installing</text>
</g>
</svg>
</body></html>
